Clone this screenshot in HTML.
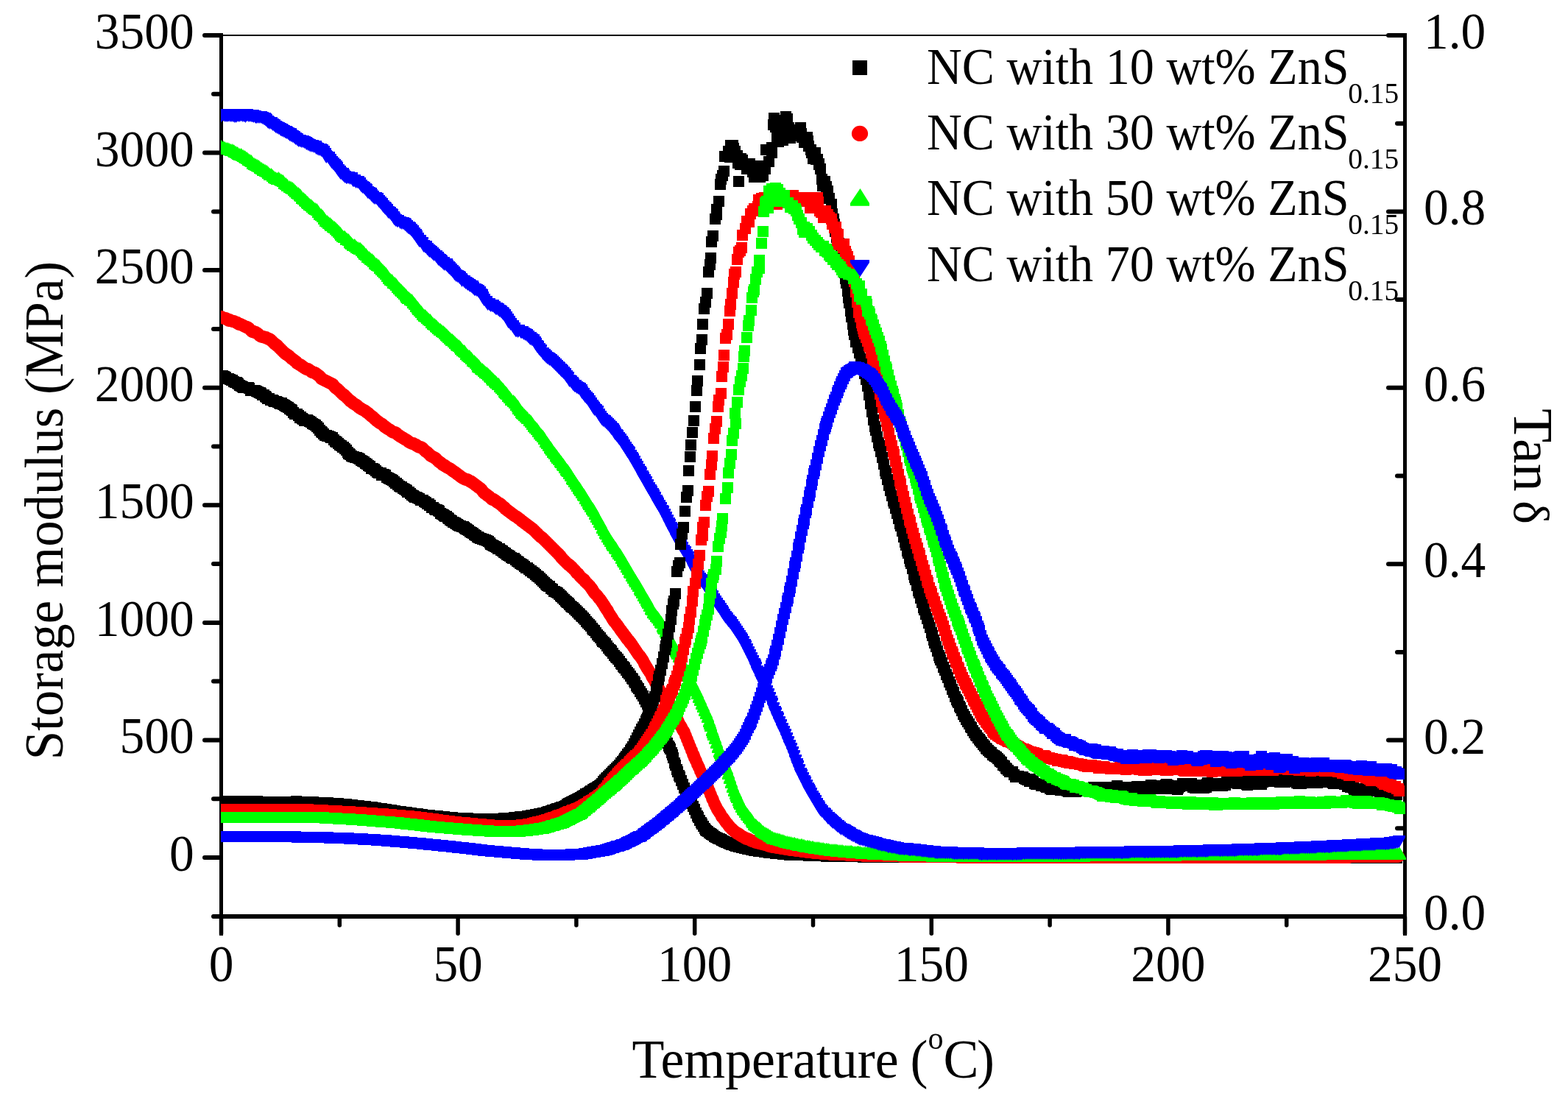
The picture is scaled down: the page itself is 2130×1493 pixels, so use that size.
<!DOCTYPE html>
<html lang="en"><head><meta charset="utf-8"><title>Storage modulus and Tan δ versus temperature</title>
<style>html,body{margin:0;padding:0;background:#fff}body{width:2130px;height:1493px;overflow:hidden}svg{display:block}text{font-family:"Liberation Serif", serif;fill:#000}</style>
</head><body>
<svg width="2130" height="1493" viewBox="0 0 2130 1493" role="img" aria-label="Storage modulus and Tan delta versus temperature for NC with 10, 30, 50 and 70 wt% ZnS 0.15">
<rect width="2130" height="1493" fill="#fff"/>
<defs>
<clipPath id="plotclip"><rect x="300" y="40" width="1615" height="1215"/></clipPath>
<marker id="qk" markerUnits="userSpaceOnUse" markerWidth="15" markerHeight="15" refX="7.5" refY="7.5" viewBox="0 0 15 15" orient="0"><rect width="15" height="15" fill="#000"/></marker>
<marker id="qr" markerUnits="userSpaceOnUse" markerWidth="15" markerHeight="15" refX="7.5" refY="7.5" viewBox="0 0 15 15" orient="0"><rect width="15" height="15" fill="#ff0000"/></marker>
<marker id="qg" markerUnits="userSpaceOnUse" markerWidth="15" markerHeight="15" refX="7.5" refY="7.5" viewBox="0 0 15 15" orient="0"><rect width="15" height="15" fill="#00ff00"/></marker>
<marker id="qb" markerUnits="userSpaceOnUse" markerWidth="15" markerHeight="15" refX="7.5" refY="7.5" viewBox="0 0 15 15" orient="0"><rect width="15" height="15" fill="#0000ff"/></marker>
<marker id="ck" markerUnits="userSpaceOnUse" markerWidth="15" markerHeight="15" refX="7.5" refY="7.5" viewBox="0 0 15 15" orient="0"><rect width="15" height="15" fill="#000"/></marker>
<marker id="cr" markerUnits="userSpaceOnUse" markerWidth="17" markerHeight="17" refX="8.5" refY="8.5" viewBox="0 0 17 17" orient="0"><circle cx="8.5" cy="8.5" r="8.5" fill="#ff0000"/></marker>
<marker id="cg" markerUnits="userSpaceOnUse" markerWidth="17" markerHeight="17" refX="8.5" refY="8.5" viewBox="0 0 17 17" orient="0"><path d="M8.5 0L17 14.6V17H0V14.6z" fill="#00ff00"/></marker>
<marker id="cb" markerUnits="userSpaceOnUse" markerWidth="17" markerHeight="17" refX="8.5" refY="8.5" viewBox="0 0 17 17" orient="0"><path d="M0 0H17V2.4L8.5 17L0 2.4z" fill="#0000ff"/></marker>
</defs>
<g fill="#000" shape-rendering="crispEdges">
<rect x="303" y="47" width="1603" height="2"/>
<rect x="298" y="45" width="5" height="1226"/>
<rect x="1906" y="45" width="5" height="1226"/>
<rect x="289" y="1242" width="1622" height="6"/>
</g>
<g stroke="#000" stroke-linecap="round" fill="none">
<line x1="278" y1="1165.0" x2="299" y2="1165.0" stroke-width="6"/>
<line x1="290" y1="1085.2" x2="299" y2="1085.2" stroke-width="6"/>
<line x1="278" y1="1005.4" x2="299" y2="1005.4" stroke-width="6"/>
<line x1="290" y1="925.6" x2="299" y2="925.6" stroke-width="6"/>
<line x1="278" y1="845.9" x2="299" y2="845.9" stroke-width="6"/>
<line x1="290" y1="766.1" x2="299" y2="766.1" stroke-width="6"/>
<line x1="278" y1="686.3" x2="299" y2="686.3" stroke-width="6"/>
<line x1="290" y1="606.5" x2="299" y2="606.5" stroke-width="6"/>
<line x1="278" y1="526.7" x2="299" y2="526.7" stroke-width="6"/>
<line x1="290" y1="446.9" x2="299" y2="446.9" stroke-width="6"/>
<line x1="278" y1="367.1" x2="299" y2="367.1" stroke-width="6"/>
<line x1="290" y1="287.4" x2="299" y2="287.4" stroke-width="6"/>
<line x1="278" y1="207.6" x2="299" y2="207.6" stroke-width="6"/>
<line x1="290" y1="127.8" x2="299" y2="127.8" stroke-width="6"/>
<line x1="278" y1="48.0" x2="299" y2="48.0" stroke-width="6"/>
<line x1="290" y1="1245" x2="299" y2="1245" stroke-width="6"/>
<line x1="1898" y1="1125.3" x2="1908" y2="1125.3" stroke-width="6"/>
<line x1="1886" y1="1005.6" x2="1908" y2="1005.6" stroke-width="6"/>
<line x1="1898" y1="885.9" x2="1908" y2="885.9" stroke-width="6"/>
<line x1="1886" y1="766.2" x2="1908" y2="766.2" stroke-width="6"/>
<line x1="1898" y1="646.5" x2="1908" y2="646.5" stroke-width="6"/>
<line x1="1886" y1="526.8" x2="1908" y2="526.8" stroke-width="6"/>
<line x1="1898" y1="407.1" x2="1908" y2="407.1" stroke-width="6"/>
<line x1="1886" y1="287.4" x2="1908" y2="287.4" stroke-width="6"/>
<line x1="1898" y1="167.7" x2="1908" y2="167.7" stroke-width="6"/>
<line x1="1886" y1="48.0" x2="1908" y2="48.0" stroke-width="6"/>
<line x1="300.5" y1="1246" x2="300.5" y2="1268.3" stroke-width="5.5"/>
<line x1="461.3" y1="1246" x2="461.3" y2="1257" stroke-width="5.5"/>
<line x1="622.1" y1="1246" x2="622.1" y2="1268.3" stroke-width="5.5"/>
<line x1="782.9" y1="1246" x2="782.9" y2="1257" stroke-width="5.5"/>
<line x1="943.7" y1="1246" x2="943.7" y2="1268.3" stroke-width="5.5"/>
<line x1="1104.5" y1="1246" x2="1104.5" y2="1257" stroke-width="5.5"/>
<line x1="1265.3" y1="1246" x2="1265.3" y2="1268.3" stroke-width="5.5"/>
<line x1="1426.1" y1="1246" x2="1426.1" y2="1257" stroke-width="5.5"/>
<line x1="1586.9" y1="1246" x2="1586.9" y2="1268.3" stroke-width="5.5"/>
<line x1="1747.7" y1="1246" x2="1747.7" y2="1257" stroke-width="5.5"/>
<line x1="1908.5" y1="1246" x2="1908.5" y2="1268.3" stroke-width="5.5"/>
</g>
<text transform="translate(263.60 1183.00) scale(0.9690 1)" font-size="69.60" text-anchor="end">0</text>
<text transform="translate(263.60 1023.43) scale(0.9690 1)" font-size="69.60" text-anchor="end">500</text>
<text transform="translate(263.60 863.86) scale(0.9690 1)" font-size="69.60" text-anchor="end">1000</text>
<text transform="translate(263.60 704.29) scale(0.9690 1)" font-size="69.60" text-anchor="end">1500</text>
<text transform="translate(263.60 544.71) scale(0.9690 1)" font-size="69.60" text-anchor="end">2000</text>
<text transform="translate(263.60 385.14) scale(0.9690 1)" font-size="69.60" text-anchor="end">2500</text>
<text transform="translate(263.60 225.57) scale(0.9690 1)" font-size="69.60" text-anchor="end">3000</text>
<text transform="translate(263.60 66.00) scale(0.9690 1)" font-size="69.60" text-anchor="end">3500</text>
<text transform="translate(300.50 1333.00) scale(0.9690 1)" font-size="69.60" text-anchor="middle">0</text>
<text transform="translate(622.10 1333.00) scale(0.9690 1)" font-size="69.60" text-anchor="middle">50</text>
<text transform="translate(943.70 1333.00) scale(0.9690 1)" font-size="69.60" text-anchor="middle">100</text>
<text transform="translate(1265.30 1333.00) scale(0.9690 1)" font-size="69.60" text-anchor="middle">150</text>
<text transform="translate(1586.90 1333.00) scale(0.9690 1)" font-size="69.60" text-anchor="middle">200</text>
<text transform="translate(1908.50 1333.00) scale(0.9690 1)" font-size="69.60" text-anchor="middle">250</text>
<text transform="translate(1934.00 1263.00) scale(0.9690 1)" font-size="69.60">0.0</text>
<text transform="translate(1934.00 1023.60) scale(0.9690 1)" font-size="69.60">0.2</text>
<text transform="translate(1934.00 784.20) scale(0.9690 1)" font-size="69.60">0.4</text>
<text transform="translate(1934.00 544.80) scale(0.9690 1)" font-size="69.60">0.6</text>
<text transform="translate(1934.00 305.40) scale(0.9690 1)" font-size="69.60">0.8</text>
<text transform="translate(1934.00 66.00) scale(0.9690 1)" font-size="69.60">1.0</text>
<text transform="translate(85.00 693.60) rotate(-90) scale(0.9480 1)" font-size="74.80" text-anchor="middle">Storage modulus (MPa)</text>
<text transform="translate(858.50 1464.00) scale(0.9650 1)" font-size="74.50">Temperature<tspan dx="-2.07"> (</tspan><tspan font-size="43.70" dy="-39.00" dx="0.00">o</tspan><tspan dy="39.00" dx="0.00">C</tspan><tspan dx="-2.59">)</tspan></text>
<text transform="translate(2057.00 555.00) rotate(90) scale(1.0000 1)" font-size="75.90">Tan <tspan font-size="67.00" dx="-6.50">δ</tspan></text>
<g clip-path="url(#plotclip)">
<polyline fill="none" stroke="none" marker-start="url(#ck)" marker-mid="url(#ck)" marker-end="url(#ck)" points="300.5,510.5 302.5,510.5 304.5,511.5 306.5,512.5 308.5,514.5 310.5,514.5 312.5,515.5 314.5,516.5 315.5,516.5 317.5,518.5 319.5,519.5 321.5,519.5 322.5,520.5 323.5,521.5 325.5,523.5 327.5,524.5 329.5,525.5 330.5,526.5 331.5,526.5 332.5,526.5 333.5,526.5 335.5,526.5 337.5,526.5 338.5,527.5 340.5,530.5 342.5,530.5 344.5,530.5 346.5,530.5 348.5,531.5 350.5,532.5 352.5,533.5 353.5,533.5 354.5,534.5 356.5,536.5 358.5,536.5 360.5,538.5 361.5,539.5 363.5,541.5 365.5,541.5 367.5,543.5 369.5,543.5 370.5,543.5 371.5,544.5 372.5,545.5 374.5,545.5 375.5,545.5 377.5,546.5 379.5,547.5 380.5,548.5 381.5,547.5 382.5,547.5 384.5,549.5 386.5,550.5 387.5,551.5 389.5,552.5 391.5,553.5 393.5,555.5 395.5,556.5 396.5,557.5 398.5,560.5 400.5,562.5 402.5,562.5 403.5,562.5 405.5,564.5 407.5,567.5 408.5,566.5 410.5,568.5 411.5,569.5 413.5,571.5 415.5,570.5 416.5,570.5 417.5,570.5 418.5,571.5 420.5,572.5 422.5,573.5 424.5,575.5 426.5,576.5 428.5,577.5 430.5,579.5 432.5,581.5 434.5,584.5 436.5,586.5 437.5,587.5 439.5,589.5 441.5,591.5 443.5,591.5 444.5,592.5 446.5,592.5 448.5,593.5 449.5,594.5 451.5,594.5 453.5,597.5 455.5,599.5 456.5,600.5 457.5,600.5 459.5,602.5 461.5,604.5 463.5,605.5 465.5,607.5 466.5,607.5 468.5,609.5 470.5,611.5 472.5,614.5 473.5,616.5 474.5,616.5 475.5,617.5 477.5,619.5 479.5,620.5 480.5,620.5 482.5,621.5 484.5,621.5 486.5,622.5 488.5,623.5 490.5,625.5 492.5,626.5 494.5,627.5 496.5,629.5 498.5,630.5 500.5,632.5 502.5,633.5 504.5,636.5 506.5,636.5 508.5,637.5 510.5,639.5 512.5,641.5 514.5,642.5 515.5,642.5 517.5,642.5 518.5,645.5 519.5,644.5 520.5,645.5 521.5,644.5 523.5,645.5 525.5,648.5 527.5,649.5 529.5,650.5 531.5,651.5 533.5,652.5 535.5,654.5 537.5,656.5 538.5,656.5 540.5,658.5 542.5,660.5 544.5,661.5 545.5,661.5 547.5,663.5 549.5,664.5 551.5,665.5 552.5,666.5 553.5,668.5 555.5,668.5 557.5,670.5 559.5,672.5 561.5,673.5 562.5,674.5 563.5,675.5 565.5,675.5 567.5,676.5 569.5,677.5 571.5,679.5 572.5,679.5 574.5,679.5 576.5,681.5 578.5,682.5 580.5,684.5 582.5,684.5 583.5,686.5 584.5,686.5 586.5,689.5 588.5,689.5 590.5,691.5 591.5,692.5 592.5,692.5 593.5,692.5 595.5,693.5 596.5,694.5 598.5,697.5 600.5,698.5 602.5,699.5 603.5,700.5 604.5,701.5 606.5,701.5 608.5,703.5 609.5,704.5 611.5,706.5 613.5,707.5 615.5,709.5 616.5,709.5 618.5,710.5 619.5,711.5 621.5,712.5 622.5,713.5 624.5,714.5 625.5,714.5 627.5,715.5 629.5,715.5 630.5,716.5 631.5,717.5 632.5,718.5 633.5,718.5 634.5,719.5 636.5,720.5 638.5,722.5 640.5,723.5 642.5,724.5 644.5,726.5 646.5,727.5 648.5,729.5 649.5,729.5 650.5,730.5 652.5,731.5 653.5,731.5 655.5,732.5 656.5,732.5 658.5,733.5 659.5,733.5 661.5,734.5 663.5,735.5 665.5,737.5 666.5,739.5 668.5,740.5 670.5,741.5 672.5,742.5 674.5,743.5 676.5,745.5 678.5,745.5 680.5,747.5 682.5,748.5 684.5,750.5 686.5,751.5 688.5,753.5 690.5,754.5 692.5,755.5 694.5,757.5 696.5,758.5 698.5,758.5 700.5,760.5 702.5,762.5 704.5,763.5 706.5,765.5 708.5,766.5 710.5,767.5 712.5,769.5 714.5,771.5 715.5,771.5 716.5,771.5 718.5,773.5 720.5,775.5 721.5,775.5 723.5,777.5 725.5,778.5 727.5,780.5 729.5,782.5 731.5,783.5 733.5,785.5 735.5,787.5 737.5,789.5 739.5,791.5 741.5,793.5 742.5,794.5 743.5,795.5 745.5,796.5 746.5,796.5 748.5,799.5 750.5,800.5 752.5,803.5 753.5,803.5 755.5,804.5 757.5,805.5 759.5,807.5 761.5,809.5 762.5,810.5 764.5,812.5 766.5,814.5 768.5,816.5 769.5,817.5 770.5,818.5 772.5,819.5 773.5,821.5 775.5,823.5 776.5,824.5 778.5,825.5 780.5,827.5 782.5,829.5 784.5,831.5 786.5,833.5 787.5,834.5 789.5,836.5 790.5,837.5 792.5,839.5 794.5,841.5 796.5,844.5 798.5,846.5 800.5,848.5 802.5,850.5 804.5,853.5 805.5,855.5 807.5,856.5 809.5,859.5 811.5,862.5 813.5,864.5 815.5,866.5 817.5,869.5 818.5,871.5 820.5,872.5 822.5,874.5 824.5,877.5 826.5,880.5 828.5,882.5 829.5,883.5 830.5,884.5 832.5,887.5 834.5,890.5 836.5,892.5 837.5,893.5 839.5,895.5 841.5,898.5 843.5,901.5 844.5,902.5 846.5,905.5 847.5,906.5 848.5,907.5 850.5,910.5 852.5,913.5 854.5,915.5 856.5,918.5 858.5,921.5 859.5,922.5 861.5,925.5 862.5,927.5 864.5,931.5 865.5,933.5 867.5,935.5 869.5,939.5 871.5,942.5 873.5,945.5 875.5,949.5 877.5,953.5 879.5,956.5 880.5,958.5 882.5,961.5 884.5,965.5 886.5,968.5 888.5,972.5 890.5,976.5 892.5,980.5 894.5,984.5 896.5,989.5 898.5,993.5 900.5,997.5 902.5,1001.5 904.5,1005.5 906.5,1009.5 908.5,1013.5 909.5,1015.5 910.5,1017.5 912.5,1022.5 913.5,1025.5 914.5,1029.5 916.5,1036.5 917.5,1039.5 919.5,1045.5 920.5,1048.5 922.5,1053.5 923.5,1055.5 925.5,1060.5 927.5,1065.5 929.5,1070.5 931.5,1075.5 933.5,1079.5 935.5,1083.5 937.5,1087.5 939.5,1091.5 941.5,1095.5 943.5,1099.5 945.5,1104.5 947.5,1108.5 948.5,1110.5 950.5,1114.5 952.5,1117.5 953.5,1119.5 955.5,1122.5 957.5,1125.5 958.5,1127.5 959.5,1128.5 961.5,1129.5 963.5,1131.5 965.5,1132.5 966.5,1133.5 968.5,1134.5 970.5,1136.5 972.5,1137.5 974.5,1138.5 976.5,1139.5 977.5,1139.5 979.5,1140.5 980.5,1141.5 982.5,1142.5 984.5,1143.5 986.5,1144.5 987.5,1144.5 989.5,1145.5 991.5,1146.5 993.5,1147.5 995.5,1147.5 997.5,1148.5 999.5,1149.5 1001.5,1149.5 1003.5,1150.5 1005.5,1150.5 1007.5,1151.5 1009.5,1151.5 1011.5,1152.5 1013.5,1152.5 1015.5,1153.5 1017.5,1153.5 1018.5,1153.5 1020.5,1154.5 1022.5,1154.5 1024.5,1155.5 1025.5,1155.5 1027.5,1155.5 1029.5,1155.5 1030.5,1156.5 1032.5,1156.5 1034.5,1156.5 1036.5,1156.5 1038.5,1157.5 1040.5,1157.5 1041.5,1157.5 1042.5,1157.5 1044.5,1158.5 1046.5,1158.5 1048.5,1158.5 1049.5,1158.5 1051.5,1158.5 1053.5,1159.5 1054.5,1159.5 1056.5,1159.5 1057.5,1159.5 1058.5,1159.5 1059.5,1159.5 1061.5,1159.5 1063.5,1160.5 1065.5,1160.5 1067.5,1160.5 1068.5,1160.5 1070.5,1160.5 1072.5,1161.5 1074.5,1161.5 1076.5,1161.5 1077.5,1161.5 1078.5,1161.5 1080.5,1161.5 1082.5,1161.5 1083.5,1161.5 1084.5,1161.5 1086.5,1161.5 1088.5,1161.5 1090.5,1161.5 1092.5,1161.5 1094.5,1161.5 1096.5,1161.5 1098.5,1162.5 1100.5,1162.5 1101.5,1162.5 1102.5,1162.5 1104.5,1162.5 1106.5,1162.5 1108.5,1162.5 1110.5,1162.5 1112.5,1162.5 1114.5,1162.5 1116.5,1162.5 1118.5,1162.5 1120.5,1162.5 1121.5,1162.5 1122.5,1163.5 1124.5,1163.5 1125.5,1163.5 1127.5,1163.5 1129.5,1163.5 1131.5,1163.5 1133.5,1163.5 1135.5,1163.5 1136.5,1163.5 1138.5,1163.5 1140.5,1163.5 1142.5,1163.5 1144.5,1163.5 1146.5,1163.5 1148.5,1163.5 1150.5,1163.5 1152.5,1163.5 1154.5,1163.5 1156.5,1163.5 1157.5,1163.5 1159.5,1163.5 1161.5,1163.5 1163.5,1163.5 1164.5,1163.5 1165.5,1163.5 1167.5,1163.5 1168.5,1163.5 1170.5,1163.5 1172.5,1164.5 1174.5,1164.5 1176.5,1164.5 1178.5,1164.5 1180.5,1164.5 1182.5,1164.5 1183.5,1164.5 1185.5,1164.5 1187.5,1164.5 1189.5,1164.5 1190.5,1164.5 1192.5,1164.5 1193.5,1164.5 1194.5,1164.5 1195.5,1164.5 1197.5,1164.5 1199.5,1164.5 1201.5,1164.5 1203.5,1164.5 1204.5,1164.5 1206.5,1164.5 1208.5,1164.5 1209.5,1164.5 1210.5,1164.5 1212.5,1164.5 1214.5,1164.5 1216.5,1164.5 1218.5,1164.5 1220.5,1164.5 1221.5,1164.5 1223.5,1164.5 1224.5,1164.5 1225.5,1164.5 1227.5,1164.5 1229.5,1164.5 1231.5,1164.5 1233.5,1164.5 1235.5,1164.5 1237.5,1164.5 1238.5,1164.5 1240.5,1164.5 1242.5,1164.5 1244.5,1164.5 1246.5,1164.5 1248.5,1164.5 1250.5,1164.5 1252.5,1164.5 1254.5,1164.5 1256.5,1164.5 1258.5,1164.5 1260.5,1164.5 1262.5,1164.5 1263.5,1164.5 1264.5,1164.5 1266.5,1164.5 1267.5,1164.5 1269.5,1164.5 1271.5,1164.5 1273.5,1164.5 1274.5,1164.5 1276.5,1164.5 1278.5,1164.5 1279.5,1164.5 1281.5,1164.5 1282.5,1164.5 1284.5,1164.5 1286.5,1164.5 1288.5,1164.5 1290.5,1164.5 1292.5,1164.5 1293.5,1164.5 1294.5,1164.5 1296.5,1164.5 1298.5,1164.5 1300.5,1164.5 1301.5,1164.5 1302.5,1164.5 1304.5,1164.5 1306.5,1164.5 1307.5,1164.5 1309.5,1164.5 1310.5,1164.5 1312.5,1164.5 1314.5,1164.5 1315.5,1164.5 1317.5,1164.5 1319.5,1164.5 1321.5,1164.5 1323.5,1164.5 1325.5,1164.5 1327.5,1164.5 1329.5,1164.5 1331.5,1164.5 1333.5,1164.5 1335.5,1164.5 1337.5,1164.5 1339.5,1164.5 1341.5,1164.5 1342.5,1164.5 1344.5,1164.5 1346.5,1164.5 1348.5,1164.5 1350.5,1164.5 1352.5,1164.5 1354.5,1165.5 1356.5,1165.5 1358.5,1165.5 1360.5,1165.5 1362.5,1165.5 1363.5,1165.5 1364.5,1165.5 1365.5,1165.5 1367.5,1165.5 1369.5,1165.5 1371.5,1165.5 1372.5,1165.5 1373.5,1165.5 1374.5,1165.5 1376.5,1165.5 1378.5,1165.5 1379.5,1165.5 1380.5,1165.5 1382.5,1165.5 1384.5,1165.5 1386.5,1165.5 1388.5,1165.5 1390.5,1165.5 1392.5,1165.5 1394.5,1165.5 1396.5,1165.5 1398.5,1165.5 1400.5,1165.5 1402.5,1165.5 1403.5,1165.5 1404.5,1165.5 1406.5,1165.5 1408.5,1165.5 1410.5,1165.5 1412.5,1165.5 1414.5,1165.5 1416.5,1165.5 1418.5,1165.5 1420.5,1165.5 1422.5,1165.5 1424.5,1165.5 1426.5,1165.5 1428.5,1165.5 1430.5,1165.5 1432.5,1165.5 1433.5,1165.5 1435.5,1165.5 1437.5,1165.5 1438.5,1165.5 1439.5,1165.5 1441.5,1165.5 1443.5,1165.5 1445.5,1165.5 1447.5,1165.5 1448.5,1165.5 1449.5,1165.5 1451.5,1165.5 1453.5,1165.5 1454.5,1165.5 1456.5,1165.5 1458.5,1165.5 1460.5,1165.5 1462.5,1165.5 1464.5,1165.5 1466.5,1165.5 1468.5,1165.5 1470.5,1165.5 1472.5,1165.5 1473.5,1165.5 1475.5,1165.5 1477.5,1165.5 1479.5,1165.5 1481.5,1165.5 1483.5,1165.5 1485.5,1165.5 1487.5,1165.5 1489.5,1165.5 1491.5,1165.5 1493.5,1165.5 1494.5,1165.5 1496.5,1165.5 1498.5,1165.5 1499.5,1165.5 1501.5,1165.5 1503.5,1165.5 1505.5,1165.5 1507.5,1165.5 1509.5,1165.5 1511.5,1165.5 1513.5,1165.5 1515.5,1165.5 1517.5,1165.5 1518.5,1165.5 1520.5,1165.5 1522.5,1165.5 1523.5,1165.5 1525.5,1165.5 1526.5,1165.5 1528.5,1165.5 1530.5,1165.5 1531.5,1165.5 1533.5,1165.5 1534.5,1165.5 1536.5,1165.5 1537.5,1165.5 1539.5,1165.5 1540.5,1165.5 1542.5,1165.5 1543.5,1165.5 1545.5,1165.5 1546.5,1165.5 1547.5,1165.5 1549.5,1165.5 1550.5,1165.5 1552.5,1165.5 1554.5,1165.5 1556.5,1165.5 1558.5,1165.5 1560.5,1165.5 1562.5,1165.5 1564.5,1165.5 1566.5,1165.5 1568.5,1165.5 1570.5,1165.5 1572.5,1165.5 1574.5,1165.5 1576.5,1165.5 1577.5,1165.5 1578.5,1165.5 1580.5,1165.5 1582.5,1165.5 1583.5,1165.5 1585.5,1165.5 1586.5,1165.5 1588.5,1165.5 1589.5,1165.5 1591.5,1165.5 1592.5,1165.5 1593.5,1165.5 1595.5,1165.5 1597.5,1165.5 1599.5,1165.5 1601.5,1165.5 1603.5,1165.5 1605.5,1165.5 1607.5,1165.5 1609.5,1165.5 1611.5,1165.5 1613.5,1165.5 1615.5,1165.5 1617.5,1165.5 1619.5,1165.5 1620.5,1165.5 1622.5,1165.5 1624.5,1165.5 1625.5,1165.5 1627.5,1165.5 1629.5,1165.5 1631.5,1165.5 1632.5,1165.5 1634.5,1165.5 1635.5,1165.5 1637.5,1165.5 1638.5,1165.5 1640.5,1165.5 1641.5,1165.5 1643.5,1165.5 1645.5,1165.5 1647.5,1165.5 1649.5,1165.5 1651.5,1165.5 1653.5,1165.5 1655.5,1165.5 1657.5,1165.5 1659.5,1165.5 1661.5,1165.5 1663.5,1165.5 1665.5,1165.5 1667.5,1165.5 1669.5,1165.5 1671.5,1165.5 1673.5,1165.5 1675.5,1165.5 1677.5,1165.5 1678.5,1165.5 1680.5,1165.5 1682.5,1165.5 1684.5,1165.5 1685.5,1165.5 1687.5,1165.5 1689.5,1165.5 1691.5,1165.5 1693.5,1165.5 1694.5,1165.5 1696.5,1165.5 1697.5,1165.5 1699.5,1165.5 1701.5,1165.5 1703.5,1165.5 1705.5,1165.5 1707.5,1165.5 1709.5,1165.5 1711.5,1165.5 1713.5,1165.5 1715.5,1165.5 1717.5,1165.5 1719.5,1165.5 1721.5,1165.5 1723.5,1165.5 1724.5,1165.5 1726.5,1165.5 1728.5,1165.5 1729.5,1165.5 1731.5,1165.5 1733.5,1165.5 1735.5,1165.5 1736.5,1165.5 1738.5,1165.5 1740.5,1165.5 1741.5,1165.5 1743.5,1165.5 1745.5,1165.5 1746.5,1165.5 1748.5,1165.5 1749.5,1165.5 1751.5,1165.5 1753.5,1165.5 1755.5,1165.5 1756.5,1165.5 1758.5,1165.5 1760.5,1165.5 1761.5,1165.5 1763.5,1165.5 1765.5,1165.5 1767.5,1165.5 1769.5,1165.5 1771.5,1165.5 1773.5,1165.5 1775.5,1165.5 1776.5,1165.5 1778.5,1165.5 1780.5,1165.5 1781.5,1165.5 1783.5,1165.5 1784.5,1165.5 1786.5,1165.5 1787.5,1165.5 1789.5,1165.5 1791.5,1165.5 1792.5,1165.5 1794.5,1165.5 1795.5,1165.5 1797.5,1165.5 1799.5,1165.5 1801.5,1165.5 1803.5,1165.5 1804.5,1165.5 1806.5,1165.5 1807.5,1165.5 1809.5,1165.5 1811.5,1165.5 1813.5,1165.5 1815.5,1165.5 1817.5,1165.5 1819.5,1165.5 1821.5,1165.5 1822.5,1165.5 1824.5,1165.5 1826.5,1165.5 1828.5,1165.5 1830.5,1165.5 1831.5,1165.5 1833.5,1165.5 1835.5,1165.5 1837.5,1165.5 1839.5,1165.5 1841.5,1165.5 1843.5,1165.5 1845.5,1165.5 1846.5,1165.5 1847.5,1165.5 1849.5,1165.5 1850.5,1165.5 1852.5,1165.5 1854.5,1165.5 1856.5,1165.5 1858.5,1165.5 1860.5,1165.5 1861.5,1165.5 1863.5,1165.5 1864.5,1165.5 1865.5,1165.5 1867.5,1165.5 1868.5,1165.5 1870.5,1165.5 1871.5,1165.5 1873.5,1165.5 1875.5,1165.5 1876.5,1165.5 1878.5,1165.5 1880.5,1165.5 1882.5,1165.5 1884.5,1165.5 1886.5,1165.5 1888.5,1165.5 1890.5,1165.5 1892.5,1165.5 1894.5,1165.5 1895.5,1165.5 1897.5,1165.5"/>
<polyline fill="none" stroke="none" marker-start="url(#cr)" marker-mid="url(#cr)" marker-end="url(#cr)" points="300.5,430.5 302.5,431.5 304.5,432.5 306.5,432.5 308.5,433.5 310.5,435.5 311.5,434.5 313.5,435.5 315.5,436.5 317.5,436.5 319.5,437.5 321.5,438.5 322.5,438.5 324.5,440.5 326.5,440.5 328.5,441.5 330.5,442.5 332.5,443.5 334.5,444.5 335.5,444.5 337.5,445.5 338.5,446.5 340.5,448.5 342.5,450.5 343.5,450.5 344.5,450.5 345.5,451.5 347.5,451.5 348.5,452.5 350.5,453.5 352.5,455.5 353.5,456.5 355.5,457.5 357.5,457.5 359.5,458.5 361.5,458.5 362.5,459.5 364.5,460.5 365.5,460.5 367.5,461.5 369.5,463.5 371.5,465.5 373.5,467.5 375.5,468.5 376.5,469.5 377.5,470.5 379.5,472.5 381.5,474.5 383.5,476.5 385.5,478.5 387.5,480.5 389.5,481.5 390.5,482.5 392.5,483.5 394.5,485.5 396.5,487.5 398.5,488.5 400.5,490.5 402.5,491.5 403.5,493.5 405.5,494.5 407.5,495.5 408.5,496.5 409.5,496.5 411.5,498.5 413.5,499.5 414.5,500.5 416.5,501.5 418.5,501.5 419.5,502.5 421.5,503.5 423.5,505.5 424.5,505.5 426.5,506.5 427.5,506.5 429.5,507.5 431.5,509.5 433.5,510.5 435.5,512.5 436.5,514.5 438.5,515.5 440.5,516.5 442.5,517.5 444.5,518.5 446.5,519.5 448.5,520.5 450.5,521.5 452.5,522.5 454.5,525.5 456.5,527.5 458.5,528.5 460.5,530.5 462.5,532.5 464.5,534.5 466.5,536.5 467.5,536.5 469.5,538.5 471.5,540.5 473.5,542.5 475.5,544.5 476.5,545.5 477.5,545.5 479.5,547.5 480.5,548.5 482.5,549.5 484.5,550.5 485.5,551.5 487.5,553.5 489.5,554.5 490.5,555.5 492.5,556.5 494.5,557.5 496.5,558.5 498.5,560.5 500.5,561.5 502.5,563.5 504.5,565.5 506.5,566.5 508.5,568.5 509.5,569.5 511.5,571.5 513.5,572.5 515.5,574.5 517.5,575.5 519.5,576.5 521.5,578.5 522.5,579.5 523.5,580.5 524.5,580.5 526.5,582.5 528.5,583.5 530.5,584.5 532.5,586.5 534.5,587.5 536.5,587.5 538.5,588.5 540.5,590.5 541.5,591.5 543.5,592.5 544.5,593.5 546.5,594.5 548.5,595.5 549.5,596.5 551.5,597.5 553.5,598.5 555.5,600.5 557.5,601.5 559.5,602.5 561.5,602.5 562.5,603.5 564.5,604.5 565.5,604.5 566.5,605.5 567.5,606.5 569.5,607.5 571.5,607.5 573.5,608.5 574.5,609.5 576.5,611.5 578.5,613.5 580.5,614.5 582.5,616.5 584.5,618.5 585.5,619.5 587.5,620.5 589.5,621.5 591.5,622.5 592.5,623.5 594.5,625.5 596.5,627.5 598.5,628.5 599.5,629.5 601.5,631.5 603.5,632.5 604.5,632.5 606.5,634.5 608.5,635.5 610.5,636.5 612.5,637.5 614.5,639.5 616.5,640.5 617.5,641.5 619.5,642.5 621.5,644.5 623.5,645.5 625.5,647.5 627.5,648.5 628.5,649.5 630.5,650.5 632.5,651.5 634.5,651.5 636.5,652.5 637.5,653.5 639.5,654.5 640.5,654.5 642.5,656.5 644.5,657.5 646.5,659.5 648.5,660.5 650.5,662.5 652.5,663.5 654.5,665.5 656.5,668.5 658.5,670.5 660.5,671.5 662.5,673.5 664.5,674.5 666.5,676.5 668.5,678.5 670.5,678.5 671.5,679.5 673.5,680.5 675.5,682.5 677.5,683.5 679.5,684.5 680.5,685.5 681.5,686.5 683.5,688.5 685.5,689.5 686.5,691.5 688.5,692.5 690.5,694.5 692.5,695.5 694.5,697.5 696.5,698.5 698.5,700.5 700.5,701.5 702.5,702.5 704.5,704.5 706.5,705.5 708.5,707.5 709.5,708.5 711.5,709.5 713.5,711.5 715.5,712.5 717.5,714.5 719.5,715.5 721.5,717.5 723.5,718.5 725.5,720.5 727.5,722.5 729.5,724.5 730.5,725.5 732.5,727.5 734.5,729.5 736.5,730.5 738.5,732.5 740.5,734.5 742.5,736.5 744.5,738.5 746.5,740.5 748.5,742.5 750.5,744.5 752.5,746.5 754.5,748.5 756.5,750.5 758.5,752.5 759.5,753.5 761.5,755.5 762.5,757.5 764.5,759.5 766.5,761.5 768.5,763.5 770.5,765.5 772.5,767.5 773.5,767.5 775.5,769.5 776.5,770.5 777.5,771.5 779.5,773.5 781.5,775.5 783.5,778.5 785.5,779.5 787.5,782.5 789.5,784.5 791.5,786.5 793.5,787.5 794.5,789.5 795.5,790.5 797.5,792.5 799.5,794.5 801.5,796.5 803.5,799.5 804.5,800.5 805.5,802.5 807.5,805.5 809.5,807.5 811.5,809.5 813.5,812.5 815.5,814.5 817.5,817.5 819.5,820.5 821.5,823.5 822.5,825.5 824.5,828.5 825.5,829.5 827.5,833.5 829.5,836.5 831.5,839.5 832.5,841.5 834.5,844.5 836.5,846.5 838.5,849.5 839.5,850.5 841.5,853.5 843.5,856.5 844.5,857.5 846.5,860.5 847.5,861.5 849.5,864.5 850.5,865.5 851.5,867.5 852.5,868.5 854.5,870.5 855.5,872.5 856.5,873.5 857.5,874.5 859.5,877.5 861.5,880.5 863.5,883.5 865.5,886.5 867.5,889.5 869.5,891.5 871.5,894.5 873.5,897.5 875.5,901.5 876.5,903.5 878.5,906.5 879.5,908.5 881.5,911.5 883.5,914.5 885.5,918.5 886.5,920.5 888.5,923.5 890.5,927.5 892.5,931.5 893.5,932.5 895.5,936.5 897.5,940.5 898.5,941.5 900.5,945.5 902.5,948.5 904.5,952.5 906.5,955.5 908.5,958.5 910.5,961.5 912.5,965.5 914.5,968.5 916.5,971.5 918.5,975.5 920.5,978.5 921.5,980.5 923.5,984.5 925.5,987.5 927.5,991.5 929.5,994.5 931.5,999.5 933.5,1004.5 935.5,1009.5 937.5,1014.5 939.5,1019.5 941.5,1024.5 942.5,1026.5 943.5,1029.5 945.5,1033.5 947.5,1038.5 949.5,1042.5 951.5,1047.5 953.5,1051.5 955.5,1056.5 957.5,1060.5 959.5,1065.5 961.5,1069.5 963.5,1074.5 965.5,1079.5 967.5,1084.5 968.5,1086.5 970.5,1091.5 972.5,1095.5 974.5,1099.5 976.5,1102.5 978.5,1105.5 980.5,1109.5 982.5,1111.5 984.5,1114.5 986.5,1117.5 988.5,1119.5 990.5,1122.5 991.5,1123.5 993.5,1125.5 994.5,1126.5 995.5,1127.5 997.5,1129.5 999.5,1130.5 1001.5,1132.5 1002.5,1132.5 1004.5,1133.5 1006.5,1135.5 1008.5,1136.5 1010.5,1137.5 1012.5,1138.5 1013.5,1139.5 1015.5,1139.5 1017.5,1140.5 1019.5,1141.5 1021.5,1142.5 1022.5,1142.5 1024.5,1143.5 1026.5,1144.5 1028.5,1144.5 1030.5,1145.5 1032.5,1145.5 1034.5,1146.5 1036.5,1146.5 1038.5,1147.5 1040.5,1147.5 1042.5,1148.5 1044.5,1149.5 1046.5,1149.5 1048.5,1150.5 1050.5,1150.5 1052.5,1150.5 1054.5,1151.5 1056.5,1151.5 1058.5,1151.5 1060.5,1152.5 1062.5,1152.5 1064.5,1152.5 1065.5,1152.5 1066.5,1153.5 1068.5,1153.5 1070.5,1153.5 1072.5,1154.5 1074.5,1154.5 1076.5,1154.5 1078.5,1154.5 1080.5,1155.5 1082.5,1155.5 1084.5,1155.5 1086.5,1155.5 1088.5,1156.5 1089.5,1156.5 1091.5,1156.5 1092.5,1156.5 1094.5,1156.5 1095.5,1157.5 1097.5,1157.5 1099.5,1157.5 1101.5,1157.5 1103.5,1157.5 1104.5,1158.5 1106.5,1158.5 1108.5,1158.5 1110.5,1158.5 1111.5,1158.5 1113.5,1158.5 1115.5,1159.5 1117.5,1159.5 1119.5,1159.5 1121.5,1159.5 1123.5,1159.5 1125.5,1159.5 1127.5,1160.5 1129.5,1160.5 1130.5,1160.5 1132.5,1160.5 1134.5,1160.5 1135.5,1160.5 1137.5,1160.5 1138.5,1160.5 1140.5,1160.5 1142.5,1160.5 1143.5,1160.5 1145.5,1160.5 1147.5,1160.5 1148.5,1160.5 1150.5,1161.5 1152.5,1161.5 1154.5,1161.5 1156.5,1161.5 1157.5,1161.5 1158.5,1161.5 1160.5,1161.5 1162.5,1161.5 1163.5,1161.5 1165.5,1161.5 1167.5,1161.5 1169.5,1161.5 1170.5,1161.5 1172.5,1162.5 1173.5,1162.5 1175.5,1162.5 1177.5,1162.5 1179.5,1162.5 1181.5,1162.5 1183.5,1162.5 1185.5,1162.5 1187.5,1162.5 1188.5,1162.5 1189.5,1162.5 1191.5,1162.5 1193.5,1162.5 1195.5,1162.5 1197.5,1162.5 1198.5,1162.5 1199.5,1162.5 1200.5,1162.5 1201.5,1162.5 1203.5,1162.5 1204.5,1162.5 1206.5,1162.5 1208.5,1162.5 1210.5,1162.5 1212.5,1162.5 1214.5,1162.5 1216.5,1162.5 1218.5,1162.5 1219.5,1162.5 1221.5,1162.5 1223.5,1163.5 1225.5,1163.5 1227.5,1163.5 1229.5,1163.5 1231.5,1163.5 1233.5,1163.5 1234.5,1163.5 1236.5,1163.5 1238.5,1163.5 1240.5,1163.5 1242.5,1163.5 1244.5,1163.5 1245.5,1163.5 1247.5,1163.5 1249.5,1163.5 1251.5,1163.5 1252.5,1163.5 1254.5,1163.5 1256.5,1163.5 1258.5,1163.5 1260.5,1163.5 1262.5,1163.5 1263.5,1163.5 1265.5,1163.5 1266.5,1163.5 1268.5,1163.5 1270.5,1163.5 1272.5,1163.5 1273.5,1163.5 1275.5,1163.5 1277.5,1163.5 1279.5,1163.5 1280.5,1163.5 1281.5,1163.5 1282.5,1163.5 1284.5,1163.5 1286.5,1163.5 1288.5,1163.5 1290.5,1163.5 1291.5,1163.5 1293.5,1163.5 1295.5,1163.5 1297.5,1163.5 1299.5,1163.5 1301.5,1164.5 1302.5,1164.5 1304.5,1164.5 1306.5,1164.5 1308.5,1164.5 1310.5,1164.5 1311.5,1164.5 1312.5,1164.5 1314.5,1164.5 1316.5,1164.5 1318.5,1164.5 1320.5,1164.5 1322.5,1164.5 1324.5,1164.5 1326.5,1164.5 1328.5,1164.5 1330.5,1164.5 1332.5,1164.5 1334.5,1164.5 1336.5,1164.5 1338.5,1164.5 1339.5,1164.5 1341.5,1164.5 1343.5,1164.5 1345.5,1164.5 1347.5,1164.5 1349.5,1164.5 1350.5,1164.5 1352.5,1164.5 1354.5,1164.5 1356.5,1164.5 1357.5,1164.5 1359.5,1164.5 1361.5,1164.5 1363.5,1164.5 1365.5,1164.5 1367.5,1164.5 1369.5,1164.5 1370.5,1164.5 1372.5,1164.5 1374.5,1164.5 1376.5,1164.5 1377.5,1164.5 1379.5,1164.5 1381.5,1164.5 1383.5,1164.5 1385.5,1164.5 1387.5,1164.5 1388.5,1164.5 1390.5,1164.5 1392.5,1164.5 1394.5,1164.5 1396.5,1164.5 1398.5,1164.5 1400.5,1164.5 1402.5,1164.5 1404.5,1164.5 1406.5,1164.5 1407.5,1164.5 1409.5,1164.5 1411.5,1164.5 1413.5,1164.5 1414.5,1164.5 1416.5,1164.5 1417.5,1164.5 1419.5,1164.5 1421.5,1164.5 1423.5,1164.5 1425.5,1164.5 1427.5,1164.5 1428.5,1164.5 1429.5,1164.5 1430.5,1164.5 1431.5,1164.5 1433.5,1164.5 1435.5,1164.5 1437.5,1164.5 1439.5,1164.5 1440.5,1164.5 1442.5,1164.5 1443.5,1164.5 1445.5,1164.5 1447.5,1164.5 1448.5,1164.5 1450.5,1164.5 1452.5,1164.5 1453.5,1164.5 1455.5,1164.5 1456.5,1164.5 1458.5,1164.5 1459.5,1164.5 1460.5,1164.5 1461.5,1164.5 1463.5,1164.5 1465.5,1164.5 1467.5,1164.5 1469.5,1164.5 1471.5,1164.5 1472.5,1164.5 1474.5,1164.5 1476.5,1164.5 1477.5,1164.5 1479.5,1164.5 1481.5,1164.5 1483.5,1164.5 1485.5,1164.5 1487.5,1164.5 1488.5,1164.5 1489.5,1164.5 1491.5,1164.5 1493.5,1164.5 1495.5,1164.5 1497.5,1164.5 1499.5,1164.5 1501.5,1164.5 1503.5,1164.5 1505.5,1164.5 1506.5,1164.5 1507.5,1164.5 1508.5,1164.5 1510.5,1164.5 1511.5,1164.5 1513.5,1164.5 1515.5,1164.5 1517.5,1164.5 1519.5,1164.5 1521.5,1164.5 1523.5,1164.5 1524.5,1164.5 1525.5,1164.5 1527.5,1164.5 1529.5,1164.5 1531.5,1164.5 1533.5,1164.5 1535.5,1164.5 1537.5,1164.5 1539.5,1164.5 1540.5,1164.5 1541.5,1164.5 1543.5,1164.5 1545.5,1164.5 1547.5,1164.5 1549.5,1164.5 1551.5,1164.5 1553.5,1164.5 1555.5,1164.5 1556.5,1164.5 1558.5,1164.5 1560.5,1164.5 1561.5,1164.5 1563.5,1164.5 1565.5,1164.5 1566.5,1164.5 1568.5,1164.5 1570.5,1164.5 1572.5,1164.5 1574.5,1164.5 1575.5,1164.5 1577.5,1164.5 1579.5,1164.5 1581.5,1164.5 1582.5,1164.5 1583.5,1164.5 1585.5,1164.5 1587.5,1164.5 1589.5,1164.5 1591.5,1164.5 1593.5,1164.5 1594.5,1164.5 1596.5,1164.5 1598.5,1164.5 1600.5,1164.5 1601.5,1164.5 1603.5,1164.5 1605.5,1164.5 1606.5,1164.5 1607.5,1164.5 1609.5,1164.5 1610.5,1164.5 1612.5,1164.5 1613.5,1164.5 1615.5,1164.5 1617.5,1164.5 1619.5,1164.5 1621.5,1164.5 1622.5,1164.5 1623.5,1164.5 1624.5,1164.5 1626.5,1164.5 1628.5,1164.5 1630.5,1164.5 1632.5,1164.5 1634.5,1164.5 1636.5,1164.5 1638.5,1164.5 1640.5,1164.5 1641.5,1164.5 1643.5,1164.5 1645.5,1164.5 1647.5,1164.5 1649.5,1164.5 1650.5,1164.5 1651.5,1164.5 1652.5,1164.5 1654.5,1164.5 1655.5,1164.5 1656.5,1164.5 1658.5,1164.5 1660.5,1164.5 1661.5,1164.5 1663.5,1164.5 1665.5,1164.5 1667.5,1164.5 1669.5,1164.5 1670.5,1164.5 1672.5,1164.5 1673.5,1164.5 1674.5,1164.5 1676.5,1164.5 1677.5,1164.5 1678.5,1164.5 1680.5,1164.5 1682.5,1164.5 1684.5,1164.5 1686.5,1164.5 1688.5,1164.5 1690.5,1164.5 1692.5,1164.5 1694.5,1164.5 1696.5,1164.5 1698.5,1164.5 1700.5,1164.5 1701.5,1164.5 1703.5,1164.5 1705.5,1164.5 1707.5,1164.5 1709.5,1164.5 1711.5,1164.5 1713.5,1164.5 1714.5,1164.5 1716.5,1164.5 1718.5,1164.5 1720.5,1164.5 1721.5,1164.5 1723.5,1164.5 1725.5,1164.5 1727.5,1164.5 1729.5,1164.5 1731.5,1164.5 1733.5,1164.5 1735.5,1164.5 1737.5,1164.5 1739.5,1164.5 1741.5,1164.5 1743.5,1164.5 1745.5,1164.5 1747.5,1164.5 1749.5,1164.5 1750.5,1164.5 1751.5,1164.5 1753.5,1164.5 1755.5,1164.5 1757.5,1164.5 1759.5,1164.5 1761.5,1164.5 1763.5,1164.5 1765.5,1164.5 1767.5,1164.5 1768.5,1164.5 1769.5,1164.5 1770.5,1164.5 1771.5,1164.5 1772.5,1164.5 1774.5,1164.5 1776.5,1164.5 1777.5,1164.5 1778.5,1164.5 1779.5,1164.5 1781.5,1164.5 1783.5,1164.5 1785.5,1164.5 1786.5,1164.5 1788.5,1164.5 1790.5,1164.5 1791.5,1164.5 1793.5,1164.5 1795.5,1164.5 1796.5,1164.5 1798.5,1164.5 1800.5,1164.5 1801.5,1164.5 1803.5,1164.5 1805.5,1164.5 1807.5,1164.5 1809.5,1164.5 1811.5,1164.5 1813.5,1164.5 1815.5,1164.5 1817.5,1164.5 1818.5,1164.5 1820.5,1164.5 1822.5,1164.5 1824.5,1164.5 1826.5,1164.5 1828.5,1164.5 1830.5,1164.5 1831.5,1164.5 1832.5,1164.5 1833.5,1163.5 1835.5,1163.5 1837.5,1163.5 1839.5,1163.5 1841.5,1163.5 1842.5,1163.5 1844.5,1163.5 1846.5,1163.5 1848.5,1163.5 1849.5,1163.5 1851.5,1163.5 1853.5,1163.5 1855.5,1163.5 1857.5,1163.5 1859.5,1163.5 1860.5,1163.5 1862.5,1163.5 1864.5,1163.5 1865.5,1163.5 1867.5,1163.5 1869.5,1163.5 1871.5,1163.5 1873.5,1163.5 1874.5,1163.5 1875.5,1163.5 1877.5,1163.5 1878.5,1163.5 1880.5,1163.5 1882.5,1163.5 1884.5,1163.5 1886.5,1163.5 1887.5,1163.5 1888.5,1163.5 1890.5,1163.5 1892.5,1163.5 1893.5,1163.5 1895.5,1163.5 1896.5,1163.5 1897.5,1163.5 1899.5,1163.5"/>
<polyline fill="none" stroke="none" marker-start="url(#cg)" marker-mid="url(#cg)" marker-end="url(#cg)" points="300.5,198.5 303.5,199.5 305.5,200.5 307.5,201.5 309.5,201.5 311.5,202.5 313.5,203.5 315.5,203.5 317.5,204.5 318.5,205.5 320.5,206.5 322.5,207.5 323.5,208.5 325.5,209.5 327.5,209.5 328.5,210.5 330.5,211.5 332.5,212.5 333.5,213.5 335.5,214.5 337.5,216.5 339.5,217.5 341.5,218.5 343.5,221.5 345.5,222.5 347.5,223.5 349.5,224.5 351.5,225.5 353.5,227.5 355.5,228.5 357.5,230.5 358.5,230.5 360.5,231.5 362.5,232.5 364.5,234.5 366.5,236.5 368.5,236.5 370.5,238.5 372.5,240.5 374.5,241.5 376.5,242.5 378.5,241.5 380.5,243.5 382.5,244.5 384.5,245.5 386.5,248.5 388.5,249.5 390.5,251.5 393.5,253.5 395.5,254.5 397.5,255.5 399.5,257.5 401.5,259.5 403.5,261.5 405.5,262.5 407.5,264.5 408.5,265.5 410.5,268.5 412.5,269.5 414.5,271.5 415.5,272.5 417.5,274.5 418.5,275.5 420.5,277.5 422.5,278.5 424.5,280.5 426.5,282.5 428.5,283.5 430.5,284.5 432.5,287.5 434.5,290.5 436.5,291.5 438.5,293.5 440.5,296.5 442.5,299.5 444.5,300.5 446.5,302.5 448.5,303.5 449.5,305.5 450.5,305.5 452.5,307.5 454.5,308.5 456.5,310.5 458.5,312.5 460.5,314.5 462.5,316.5 463.5,318.5 465.5,320.5 467.5,321.5 468.5,321.5 470.5,324.5 471.5,324.5 473.5,325.5 475.5,328.5 476.5,329.5 477.5,330.5 479.5,332.5 481.5,332.5 482.5,333.5 484.5,335.5 486.5,336.5 488.5,337.5 489.5,337.5 491.5,339.5 493.5,341.5 494.5,342.5 495.5,344.5 497.5,345.5 499.5,348.5 501.5,349.5 503.5,351.5 505.5,352.5 507.5,354.5 509.5,357.5 511.5,358.5 512.5,359.5 514.5,360.5 516.5,363.5 518.5,365.5 520.5,367.5 522.5,369.5 524.5,371.5 526.5,374.5 528.5,377.5 530.5,379.5 532.5,380.5 534.5,383.5 536.5,384.5 538.5,386.5 540.5,389.5 542.5,391.5 544.5,393.5 545.5,394.5 547.5,396.5 549.5,398.5 551.5,400.5 552.5,402.5 553.5,403.5 554.5,404.5 555.5,404.5 557.5,406.5 559.5,407.5 561.5,410.5 563.5,412.5 565.5,415.5 567.5,417.5 568.5,419.5 570.5,421.5 572.5,423.5 574.5,426.5 576.5,428.5 577.5,428.5 578.5,429.5 580.5,431.5 582.5,433.5 584.5,434.5 586.5,437.5 588.5,439.5 590.5,440.5 592.5,442.5 593.5,443.5 595.5,445.5 597.5,447.5 598.5,447.5 600.5,449.5 602.5,450.5 604.5,452.5 606.5,454.5 607.5,455.5 609.5,457.5 611.5,459.5 613.5,461.5 614.5,461.5 616.5,463.5 618.5,465.5 620.5,467.5 621.5,468.5 623.5,469.5 625.5,471.5 626.5,473.5 628.5,475.5 630.5,476.5 631.5,477.5 633.5,480.5 635.5,482.5 637.5,483.5 638.5,484.5 640.5,486.5 642.5,489.5 644.5,490.5 646.5,492.5 648.5,494.5 649.5,497.5 650.5,496.5 651.5,498.5 653.5,500.5 655.5,501.5 657.5,503.5 659.5,505.5 661.5,506.5 663.5,508.5 665.5,510.5 666.5,511.5 668.5,513.5 669.5,515.5 670.5,515.5 672.5,517.5 673.5,518.5 674.5,519.5 676.5,521.5 677.5,521.5 679.5,524.5 681.5,526.5 683.5,528.5 685.5,531.5 686.5,532.5 687.5,533.5 688.5,534.5 690.5,537.5 692.5,539.5 694.5,542.5 697.5,544.5 699.5,546.5 701.5,549.5 703.5,551.5 704.5,554.5 706.5,556.5 708.5,559.5 709.5,560.5 710.5,561.5 712.5,563.5 714.5,565.5 716.5,567.5 719.5,570.5 721.5,572.5 723.5,575.5 725.5,578.5 727.5,580.5 729.5,582.5 731.5,585.5 733.5,588.5 735.5,590.5 737.5,592.5 739.5,595.5 741.5,599.5 743.5,601.5 745.5,604.5 747.5,607.5 748.5,608.5 749.5,610.5 751.5,613.5 753.5,615.5 755.5,618.5 756.5,619.5 757.5,621.5 759.5,623.5 761.5,626.5 762.5,627.5 764.5,630.5 765.5,631.5 767.5,634.5 769.5,637.5 770.5,638.5 771.5,639.5 773.5,642.5 775.5,645.5 777.5,649.5 778.5,650.5 780.5,653.5 782.5,656.5 784.5,659.5 786.5,662.5 787.5,663.5 788.5,665.5 790.5,668.5 792.5,671.5 793.5,672.5 795.5,676.5 797.5,679.5 799.5,682.5 800.5,684.5 802.5,687.5 804.5,690.5 805.5,691.5 806.5,693.5 808.5,697.5 810.5,701.5 812.5,704.5 814.5,708.5 816.5,711.5 818.5,716.5 820.5,719.5 822.5,723.5 823.5,724.5 825.5,728.5 827.5,731.5 829.5,734.5 831.5,737.5 832.5,739.5 833.5,740.5 835.5,743.5 836.5,744.5 838.5,748.5 840.5,751.5 842.5,753.5 844.5,757.5 846.5,760.5 847.5,762.5 849.5,765.5 851.5,769.5 853.5,772.5 855.5,776.5 856.5,777.5 858.5,781.5 860.5,784.5 862.5,787.5 863.5,789.5 865.5,792.5 867.5,795.5 869.5,799.5 870.5,801.5 872.5,804.5 874.5,808.5 876.5,811.5 878.5,814.5 879.5,816.5 880.5,818.5 882.5,822.5 884.5,826.5 885.5,827.5 887.5,831.5 889.5,833.5 891.5,836.5 893.5,838.5 895.5,841.5 897.5,844.5 898.5,845.5 900.5,850.5 901.5,852.5 902.5,853.5 904.5,857.5 905.5,859.5 907.5,862.5 909.5,866.5 911.5,870.5 913.5,873.5 914.5,876.5 916.5,879.5 918.5,883.5 919.5,885.5 920.5,887.5 922.5,891.5 924.5,895.5 926.5,899.5 928.5,903.5 929.5,905.5 931.5,909.5 933.5,913.5 934.5,915.5 935.5,917.5 937.5,921.5 938.5,923.5 940.5,927.5 941.5,929.5 943.5,933.5 945.5,937.5 947.5,941.5 949.5,946.5 951.5,950.5 953.5,955.5 955.5,959.5 957.5,964.5 959.5,968.5 961.5,973.5 963.5,979.5 964.5,982.5 965.5,985.5 967.5,991.5 968.5,994.5 969.5,997.5 971.5,1002.5 973.5,1008.5 975.5,1014.5 977.5,1020.5 978.5,1022.5 979.5,1025.5 981.5,1030.5 983.5,1035.5 984.5,1037.5 985.5,1040.5 987.5,1044.5 989.5,1050.5 991.5,1056.5 993.5,1062.5 995.5,1068.5 997.5,1073.5 999.5,1077.5 1000.5,1080.5 1001.5,1082.5 1003.5,1086.5 1004.5,1089.5 1005.5,1091.5 1007.5,1095.5 1009.5,1098.5 1010.5,1099.5 1012.5,1102.5 1014.5,1105.5 1015.5,1106.5 1017.5,1109.5 1019.5,1111.5 1021.5,1114.5 1022.5,1116.5 1024.5,1119.5 1026.5,1120.5 1027.5,1121.5 1029.5,1123.5 1031.5,1124.5 1033.5,1126.5 1034.5,1128.5 1036.5,1129.5 1037.5,1130.5 1039.5,1131.5 1041.5,1132.5 1043.5,1133.5 1045.5,1135.5 1046.5,1135.5 1048.5,1137.5 1049.5,1137.5 1050.5,1138.5 1052.5,1138.5 1054.5,1139.5 1056.5,1139.5 1058.5,1140.5 1059.5,1140.5 1061.5,1141.5 1063.5,1141.5 1065.5,1142.5 1067.5,1143.5 1069.5,1143.5 1071.5,1144.5 1072.5,1144.5 1074.5,1144.5 1076.5,1145.5 1078.5,1145.5 1079.5,1145.5 1081.5,1146.5 1083.5,1146.5 1084.5,1147.5 1086.5,1147.5 1088.5,1147.5 1089.5,1147.5 1091.5,1148.5 1092.5,1148.5 1094.5,1149.5 1096.5,1149.5 1097.5,1149.5 1099.5,1149.5 1101.5,1150.5 1103.5,1150.5 1104.5,1150.5 1106.5,1151.5 1108.5,1151.5 1110.5,1151.5 1112.5,1151.5 1114.5,1152.5 1116.5,1152.5 1118.5,1152.5 1120.5,1153.5 1122.5,1153.5 1123.5,1153.5 1125.5,1153.5 1127.5,1154.5 1129.5,1154.5 1131.5,1154.5 1133.5,1154.5 1135.5,1154.5 1136.5,1155.5 1137.5,1155.5 1138.5,1155.5 1140.5,1155.5 1142.5,1155.5 1144.5,1155.5 1146.5,1156.5 1148.5,1156.5 1149.5,1156.5 1151.5,1156.5 1153.5,1156.5 1155.5,1156.5 1156.5,1156.5 1157.5,1157.5 1158.5,1157.5 1160.5,1157.5 1162.5,1157.5 1164.5,1157.5 1165.5,1157.5 1166.5,1157.5 1168.5,1157.5 1170.5,1158.5 1172.5,1158.5 1174.5,1158.5 1175.5,1158.5 1177.5,1158.5 1178.5,1158.5 1180.5,1158.5 1182.5,1158.5 1184.5,1158.5 1186.5,1159.5 1188.5,1159.5 1190.5,1159.5 1191.5,1159.5 1193.5,1159.5 1194.5,1159.5 1196.5,1159.5 1198.5,1159.5 1200.5,1159.5 1202.5,1159.5 1204.5,1159.5 1205.5,1159.5 1207.5,1160.5 1208.5,1160.5 1210.5,1160.5 1211.5,1160.5 1212.5,1160.5 1213.5,1160.5 1215.5,1160.5 1217.5,1160.5 1219.5,1160.5 1220.5,1160.5 1221.5,1160.5 1223.5,1160.5 1225.5,1160.5 1227.5,1161.5 1229.5,1161.5 1231.5,1161.5 1233.5,1161.5 1235.5,1161.5 1237.5,1161.5 1239.5,1161.5 1240.5,1161.5 1242.5,1161.5 1244.5,1161.5 1246.5,1161.5 1248.5,1161.5 1250.5,1161.5 1252.5,1161.5 1254.5,1161.5 1256.5,1161.5 1257.5,1161.5 1258.5,1161.5 1260.5,1161.5 1262.5,1161.5 1264.5,1161.5 1266.5,1162.5 1268.5,1162.5 1269.5,1162.5 1271.5,1162.5 1273.5,1162.5 1275.5,1162.5 1276.5,1162.5 1278.5,1162.5 1280.5,1162.5 1282.5,1162.5 1284.5,1162.5 1286.5,1162.5 1287.5,1162.5 1289.5,1162.5 1291.5,1162.5 1292.5,1162.5 1294.5,1162.5 1295.5,1162.5 1297.5,1162.5 1299.5,1162.5 1300.5,1162.5 1301.5,1162.5 1302.5,1162.5 1303.5,1162.5 1305.5,1162.5 1306.5,1162.5 1308.5,1162.5 1310.5,1162.5 1312.5,1162.5 1313.5,1162.5 1315.5,1162.5 1316.5,1162.5 1318.5,1162.5 1320.5,1162.5 1321.5,1162.5 1323.5,1162.5 1325.5,1162.5 1326.5,1162.5 1328.5,1162.5 1330.5,1162.5 1332.5,1162.5 1333.5,1162.5 1335.5,1162.5 1336.5,1162.5 1338.5,1162.5 1340.5,1162.5 1342.5,1162.5 1344.5,1162.5 1346.5,1162.5 1348.5,1162.5 1350.5,1162.5 1352.5,1162.5 1353.5,1162.5 1355.5,1162.5 1357.5,1162.5 1358.5,1162.5 1359.5,1162.5 1361.5,1162.5 1363.5,1162.5 1365.5,1162.5 1367.5,1162.5 1368.5,1162.5 1369.5,1162.5 1371.5,1162.5 1372.5,1162.5 1374.5,1162.5 1376.5,1162.5 1378.5,1162.5 1379.5,1162.5 1381.5,1162.5 1382.5,1162.5 1384.5,1162.5 1386.5,1162.5 1387.5,1162.5 1389.5,1162.5 1391.5,1162.5 1392.5,1162.5 1394.5,1162.5 1396.5,1162.5 1397.5,1162.5 1399.5,1162.5 1401.5,1162.5 1403.5,1162.5 1404.5,1162.5 1406.5,1162.5 1408.5,1162.5 1410.5,1162.5 1412.5,1162.5 1414.5,1162.5 1416.5,1162.5 1418.5,1162.5 1420.5,1162.5 1422.5,1162.5 1423.5,1162.5 1424.5,1162.5 1426.5,1162.5 1428.5,1162.5 1429.5,1162.5 1431.5,1162.5 1433.5,1162.5 1435.5,1162.5 1437.5,1162.5 1439.5,1162.5 1441.5,1162.5 1442.5,1162.5 1443.5,1162.5 1445.5,1162.5 1447.5,1162.5 1448.5,1162.5 1450.5,1162.5 1452.5,1162.5 1453.5,1162.5 1455.5,1162.5 1457.5,1162.5 1459.5,1162.5 1461.5,1162.5 1463.5,1162.5 1465.5,1162.5 1466.5,1162.5 1468.5,1162.5 1470.5,1162.5 1472.5,1162.5 1474.5,1161.5 1475.5,1161.5 1477.5,1161.5 1479.5,1161.5 1480.5,1161.5 1481.5,1161.5 1483.5,1161.5 1484.5,1161.5 1486.5,1161.5 1488.5,1161.5 1490.5,1161.5 1491.5,1161.5 1493.5,1161.5 1495.5,1161.5 1497.5,1161.5 1499.5,1161.5 1501.5,1161.5 1502.5,1161.5 1503.5,1161.5 1505.5,1161.5 1507.5,1161.5 1509.5,1161.5 1511.5,1161.5 1513.5,1161.5 1515.5,1161.5 1516.5,1161.5 1518.5,1161.5 1520.5,1161.5 1522.5,1161.5 1524.5,1161.5 1526.5,1161.5 1528.5,1161.5 1530.5,1161.5 1531.5,1161.5 1533.5,1161.5 1534.5,1161.5 1536.5,1161.5 1537.5,1161.5 1539.5,1161.5 1541.5,1161.5 1543.5,1161.5 1545.5,1161.5 1547.5,1161.5 1549.5,1161.5 1550.5,1161.5 1552.5,1161.5 1554.5,1161.5 1555.5,1161.5 1557.5,1161.5 1558.5,1161.5 1560.5,1161.5 1562.5,1161.5 1564.5,1161.5 1566.5,1161.5 1568.5,1161.5 1569.5,1161.5 1571.5,1161.5 1573.5,1161.5 1575.5,1161.5 1576.5,1161.5 1578.5,1161.5 1580.5,1161.5 1582.5,1161.5 1584.5,1161.5 1586.5,1161.5 1588.5,1161.5 1590.5,1161.5 1592.5,1161.5 1594.5,1161.5 1596.5,1161.5 1598.5,1160.5 1599.5,1160.5 1601.5,1160.5 1602.5,1160.5 1604.5,1160.5 1606.5,1160.5 1608.5,1160.5 1610.5,1160.5 1612.5,1160.5 1613.5,1160.5 1615.5,1160.5 1616.5,1160.5 1618.5,1160.5 1620.5,1160.5 1622.5,1160.5 1624.5,1160.5 1626.5,1160.5 1628.5,1160.5 1629.5,1160.5 1630.5,1160.5 1632.5,1160.5 1634.5,1160.5 1636.5,1160.5 1637.5,1160.5 1638.5,1160.5 1639.5,1160.5 1640.5,1160.5 1642.5,1160.5 1644.5,1160.5 1646.5,1160.5 1648.5,1160.5 1650.5,1160.5 1652.5,1160.5 1654.5,1160.5 1655.5,1160.5 1657.5,1160.5 1658.5,1160.5 1659.5,1160.5 1661.5,1160.5 1663.5,1160.5 1664.5,1160.5 1666.5,1160.5 1668.5,1160.5 1669.5,1160.5 1671.5,1160.5 1673.5,1160.5 1675.5,1160.5 1676.5,1160.5 1678.5,1160.5 1679.5,1160.5 1681.5,1160.5 1682.5,1160.5 1684.5,1160.5 1686.5,1160.5 1688.5,1160.5 1690.5,1160.5 1692.5,1160.5 1694.5,1160.5 1696.5,1160.5 1698.5,1160.5 1700.5,1160.5 1702.5,1160.5 1704.5,1160.5 1706.5,1160.5 1708.5,1160.5 1710.5,1160.5 1711.5,1160.5 1712.5,1160.5 1714.5,1160.5 1716.5,1160.5 1718.5,1160.5 1720.5,1160.5 1722.5,1160.5 1724.5,1160.5 1726.5,1160.5 1728.5,1160.5 1729.5,1160.5 1731.5,1160.5 1733.5,1160.5 1734.5,1160.5 1736.5,1160.5 1738.5,1160.5 1740.5,1160.5 1741.5,1160.5 1743.5,1160.5 1744.5,1160.5 1745.5,1160.5 1747.5,1160.5 1749.5,1160.5 1751.5,1160.5 1752.5,1160.5 1754.5,1160.5 1755.5,1160.5 1757.5,1160.5 1759.5,1160.5 1761.5,1160.5 1763.5,1160.5 1764.5,1160.5 1765.5,1160.5 1766.5,1160.5 1768.5,1160.5 1769.5,1160.5 1771.5,1160.5 1773.5,1160.5 1775.5,1160.5 1776.5,1160.5 1778.5,1160.5 1780.5,1160.5 1781.5,1160.5 1783.5,1160.5 1785.5,1160.5 1787.5,1160.5 1788.5,1160.5 1789.5,1160.5 1791.5,1160.5 1793.5,1160.5 1795.5,1159.5 1797.5,1159.5 1799.5,1159.5 1801.5,1159.5 1802.5,1159.5 1803.5,1159.5 1805.5,1159.5 1806.5,1159.5 1807.5,1159.5 1809.5,1159.5 1811.5,1159.5 1813.5,1159.5 1815.5,1159.5 1817.5,1159.5 1819.5,1159.5 1821.5,1159.5 1823.5,1159.5 1825.5,1159.5 1827.5,1159.5 1829.5,1159.5 1831.5,1159.5 1832.5,1159.5 1834.5,1159.5 1836.5,1159.5 1837.5,1159.5 1839.5,1159.5 1841.5,1159.5 1843.5,1159.5 1845.5,1159.5 1847.5,1159.5 1848.5,1159.5 1849.5,1159.5 1850.5,1159.5 1851.5,1159.5 1853.5,1159.5 1855.5,1159.5 1856.5,1159.5 1858.5,1159.5 1860.5,1159.5 1862.5,1159.5 1864.5,1159.5 1865.5,1159.5 1867.5,1159.5 1869.5,1159.5 1871.5,1159.5 1873.5,1159.5 1875.5,1159.5 1877.5,1159.5 1879.5,1159.5 1881.5,1159.5 1883.5,1159.5 1885.5,1159.5 1887.5,1159.5 1889.5,1159.5 1891.5,1159.5 1892.5,1159.5 1894.5,1159.5 1896.5,1159.5 1898.5,1159.5 1900.5,1159.5 1901.5,1159.5"/>
<polyline fill="none" stroke="none" marker-start="url(#cb)" marker-mid="url(#cb)" marker-end="url(#cb)" points="300.5,157.5 301.5,156.5 303.5,156.5 305.5,157.5 307.5,157.5 309.5,157.5 310.5,156.5 312.5,157.5 314.5,157.5 316.5,157.5 318.5,158.5 320.5,158.5 321.5,157.5 323.5,157.5 325.5,157.5 327.5,156.5 329.5,157.5 331.5,157.5 333.5,158.5 335.5,156.5 337.5,157.5 339.5,157.5 341.5,157.5 342.5,157.5 343.5,157.5 344.5,158.5 346.5,158.5 347.5,159.5 348.5,159.5 350.5,159.5 352.5,159.5 354.5,159.5 356.5,160.5 358.5,161.5 359.5,161.5 360.5,162.5 361.5,163.5 363.5,165.5 364.5,166.5 366.5,167.5 368.5,167.5 370.5,169.5 372.5,170.5 374.5,172.5 376.5,173.5 378.5,174.5 380.5,175.5 381.5,176.5 382.5,176.5 383.5,177.5 385.5,178.5 387.5,179.5 388.5,179.5 389.5,180.5 391.5,181.5 393.5,183.5 394.5,182.5 395.5,184.5 397.5,185.5 399.5,186.5 401.5,188.5 403.5,189.5 405.5,191.5 407.5,191.5 409.5,192.5 411.5,192.5 413.5,193.5 415.5,194.5 416.5,195.5 418.5,196.5 420.5,197.5 422.5,198.5 424.5,198.5 426.5,199.5 428.5,199.5 429.5,201.5 431.5,202.5 433.5,203.5 435.5,203.5 436.5,204.5 437.5,204.5 439.5,206.5 441.5,209.5 442.5,212.5 443.5,213.5 446.5,214.5 448.5,217.5 450.5,220.5 452.5,222.5 454.5,224.5 456.5,226.5 457.5,228.5 459.5,231.5 461.5,233.5 462.5,235.5 464.5,236.5 465.5,236.5 466.5,238.5 468.5,240.5 470.5,241.5 471.5,241.5 473.5,241.5 475.5,242.5 477.5,242.5 479.5,245.5 480.5,245.5 481.5,245.5 483.5,247.5 485.5,247.5 486.5,247.5 488.5,249.5 490.5,252.5 492.5,254.5 494.5,255.5 496.5,257.5 497.5,258.5 499.5,261.5 501.5,262.5 503.5,263.5 504.5,265.5 506.5,267.5 508.5,269.5 510.5,269.5 512.5,270.5 514.5,273.5 516.5,275.5 518.5,277.5 520.5,280.5 522.5,282.5 523.5,283.5 525.5,285.5 527.5,288.5 529.5,289.5 531.5,291.5 532.5,292.5 534.5,295.5 535.5,297.5 537.5,299.5 539.5,300.5 540.5,300.5 543.5,302.5 545.5,303.5 547.5,303.5 549.5,304.5 550.5,305.5 552.5,307.5 554.5,309.5 555.5,309.5 556.5,310.5 558.5,312.5 560.5,314.5 562.5,317.5 564.5,319.5 565.5,321.5 567.5,324.5 569.5,327.5 570.5,327.5 573.5,330.5 575.5,334.5 577.5,335.5 578.5,335.5 580.5,338.5 582.5,340.5 583.5,341.5 585.5,342.5 587.5,344.5 589.5,346.5 592.5,348.5 594.5,350.5 595.5,352.5 597.5,353.5 597.5,353.5 598.5,354.5 599.5,355.5 601.5,357.5 602.5,357.5 603.5,359.5 605.5,359.5 606.5,359.5 607.5,361.5 609.5,363.5 610.5,364.5 612.5,366.5 614.5,368.5 616.5,370.5 617.5,372.5 619.5,374.5 621.5,375.5 623.5,376.5 624.5,377.5 626.5,379.5 627.5,381.5 630.5,382.5 632.5,384.5 634.5,385.5 635.5,386.5 637.5,387.5 638.5,388.5 640.5,389.5 641.5,389.5 642.5,391.5 644.5,393.5 645.5,393.5 647.5,394.5 649.5,395.5 651.5,397.5 653.5,400.5 654.5,401.5 655.5,404.5 657.5,407.5 660.5,410.5 662.5,413.5 664.5,413.5 666.5,415.5 668.5,415.5 669.5,415.5 671.5,417.5 673.5,419.5 674.5,419.5 676.5,420.5 678.5,422.5 680.5,423.5 682.5,425.5 683.5,426.5 685.5,428.5 687.5,431.5 689.5,434.5 690.5,437.5 691.5,437.5 693.5,440.5 696.5,443.5 698.5,446.5 700.5,449.5 701.5,449.5 703.5,450.5 704.5,449.5 707.5,451.5 708.5,451.5 709.5,451.5 711.5,453.5 713.5,454.5 715.5,455.5 717.5,457.5 719.5,459.5 720.5,459.5 720.5,460.5 722.5,461.5 724.5,462.5 726.5,465.5 727.5,467.5 729.5,470.5 730.5,471.5 732.5,474.5 734.5,476.5 737.5,480.5 739.5,482.5 741.5,484.5 743.5,486.5 745.5,487.5 746.5,488.5 748.5,489.5 750.5,491.5 752.5,493.5 754.5,495.5 756.5,497.5 758.5,499.5 759.5,500.5 761.5,502.5 762.5,503.5 763.5,504.5 765.5,506.5 767.5,508.5 769.5,511.5 771.5,513.5 773.5,517.5 775.5,518.5 777.5,520.5 778.5,522.5 780.5,524.5 781.5,524.5 783.5,526.5 785.5,527.5 787.5,528.5 789.5,530.5 790.5,533.5 792.5,535.5 794.5,538.5 796.5,540.5 798.5,542.5 800.5,545.5 802.5,548.5 804.5,551.5 805.5,553.5 806.5,554.5 807.5,556.5 809.5,557.5 811.5,559.5 813.5,563.5 815.5,566.5 817.5,569.5 819.5,571.5 821.5,572.5 823.5,574.5 825.5,576.5 827.5,578.5 829.5,580.5 830.5,582.5 832.5,583.5 833.5,585.5 834.5,587.5 835.5,589.5 837.5,591.5 838.5,592.5 840.5,595.5 842.5,597.5 844.5,600.5 845.5,602.5 847.5,605.5 849.5,608.5 851.5,611.5 852.5,613.5 853.5,614.5 854.5,615.5 856.5,619.5 858.5,622.5 859.5,624.5 861.5,627.5 863.5,631.5 865.5,634.5 867.5,638.5 869.5,641.5 870.5,643.5 872.5,647.5 873.5,649.5 875.5,652.5 877.5,655.5 879.5,659.5 881.5,663.5 883.5,666.5 884.5,668.5 886.5,671.5 887.5,673.5 889.5,676.5 891.5,680.5 892.5,682.5 893.5,684.5 895.5,687.5 897.5,690.5 899.5,694.5 900.5,695.5 902.5,699.5 904.5,703.5 906.5,707.5 908.5,711.5 909.5,713.5 911.5,717.5 912.5,719.5 914.5,723.5 916.5,726.5 918.5,731.5 920.5,734.5 922.5,738.5 924.5,741.5 926.5,744.5 928.5,748.5 930.5,750.5 932.5,754.5 934.5,757.5 936.5,761.5 937.5,763.5 939.5,767.5 941.5,771.5 942.5,773.5 944.5,777.5 946.5,780.5 948.5,783.5 950.5,786.5 952.5,788.5 953.5,790.5 955.5,792.5 957.5,795.5 958.5,797.5 960.5,799.5 962.5,803.5 963.5,804.5 965.5,807.5 967.5,810.5 969.5,814.5 971.5,817.5 973.5,820.5 975.5,823.5 976.5,824.5 978.5,827.5 980.5,830.5 981.5,832.5 983.5,835.5 985.5,838.5 987.5,840.5 989.5,843.5 991.5,845.5 992.5,846.5 994.5,849.5 996.5,852.5 998.5,855.5 1000.5,858.5 1002.5,861.5 1004.5,864.5 1006.5,867.5 1007.5,869.5 1009.5,872.5 1011.5,876.5 1012.5,878.5 1014.5,882.5 1016.5,886.5 1018.5,890.5 1020.5,894.5 1022.5,898.5 1024.5,902.5 1025.5,904.5 1026.5,907.5 1028.5,912.5 1029.5,914.5 1031.5,918.5 1033.5,923.5 1035.5,927.5 1037.5,931.5 1039.5,935.5 1041.5,939.5 1043.5,943.5 1045.5,948.5 1047.5,953.5 1048.5,956.5 1050.5,962.5 1052.5,967.5 1053.5,969.5 1055.5,974.5 1056.5,976.5 1058.5,981.5 1060.5,985.5 1062.5,990.5 1064.5,994.5 1066.5,998.5 1068.5,1003.5 1070.5,1008.5 1072.5,1013.5 1074.5,1017.5 1076.5,1022.5 1078.5,1027.5 1080.5,1033.5 1082.5,1038.5 1083.5,1041.5 1085.5,1046.5 1087.5,1051.5 1088.5,1053.5 1090.5,1057.5 1092.5,1061.5 1093.5,1063.5 1095.5,1067.5 1097.5,1071.5 1098.5,1073.5 1099.5,1075.5 1101.5,1078.5 1103.5,1082.5 1105.5,1085.5 1107.5,1088.5 1109.5,1092.5 1111.5,1095.5 1112.5,1097.5 1114.5,1100.5 1116.5,1102.5 1119.5,1105.5 1120.5,1106.5 1122.5,1108.5 1124.5,1111.5 1125.5,1111.5 1127.5,1113.5 1128.5,1114.5 1129.5,1115.5 1130.5,1116.5 1131.5,1117.5 1133.5,1118.5 1135.5,1120.5 1137.5,1122.5 1138.5,1122.5 1140.5,1124.5 1142.5,1126.5 1145.5,1127.5 1147.5,1128.5 1148.5,1129.5 1150.5,1130.5 1151.5,1131.5 1152.5,1131.5 1153.5,1132.5 1154.5,1132.5 1156.5,1134.5 1158.5,1135.5 1159.5,1135.5 1161.5,1136.5 1162.5,1137.5 1164.5,1138.5 1166.5,1139.5 1167.5,1139.5 1168.5,1140.5 1170.5,1140.5 1172.5,1141.5 1175.5,1142.5 1177.5,1142.5 1179.5,1143.5 1181.5,1143.5 1183.5,1144.5 1185.5,1144.5 1187.5,1145.5 1189.5,1145.5 1191.5,1146.5 1193.5,1147.5 1195.5,1147.5 1197.5,1148.5 1199.5,1148.5 1201.5,1148.5 1203.5,1149.5 1205.5,1149.5 1206.5,1150.5 1207.5,1150.5 1209.5,1150.5 1211.5,1151.5 1213.5,1151.5 1215.5,1151.5 1217.5,1152.5 1219.5,1152.5 1221.5,1153.5 1223.5,1153.5 1225.5,1153.5 1227.5,1153.5 1228.5,1153.5 1229.5,1153.5 1231.5,1153.5 1232.5,1153.5 1234.5,1154.5 1235.5,1154.5 1236.5,1154.5 1237.5,1154.5 1239.5,1154.5 1240.5,1154.5 1242.5,1154.5 1244.5,1155.5 1246.5,1155.5 1248.5,1155.5 1250.5,1155.5 1252.5,1156.5 1254.5,1156.5 1256.5,1156.5 1258.5,1156.5 1259.5,1156.5 1261.5,1157.5 1263.5,1157.5 1265.5,1157.5 1267.5,1157.5 1269.5,1157.5 1270.5,1158.5 1272.5,1158.5 1273.5,1158.5 1275.5,1158.5 1277.5,1158.5 1279.5,1158.5 1281.5,1158.5 1283.5,1158.5 1284.5,1158.5 1286.5,1158.5 1287.5,1158.5 1289.5,1158.5 1290.5,1158.5 1292.5,1158.5 1294.5,1159.5 1296.5,1159.5 1297.5,1159.5 1299.5,1159.5 1300.5,1159.5 1302.5,1159.5 1304.5,1159.5 1306.5,1159.5 1308.5,1159.5 1309.5,1159.5 1311.5,1159.5 1313.5,1159.5 1315.5,1159.5 1316.5,1159.5 1318.5,1159.5 1320.5,1159.5 1322.5,1159.5 1324.5,1159.5 1326.5,1159.5 1328.5,1159.5 1330.5,1160.5 1332.5,1160.5 1333.5,1160.5 1334.5,1160.5 1336.5,1160.5 1338.5,1160.5 1340.5,1160.5 1341.5,1160.5 1343.5,1160.5 1345.5,1160.5 1347.5,1160.5 1349.5,1160.5 1351.5,1160.5 1353.5,1160.5 1354.5,1160.5 1356.5,1160.5 1358.5,1160.5 1360.5,1160.5 1362.5,1160.5 1364.5,1160.5 1366.5,1160.5 1368.5,1160.5 1370.5,1160.5 1372.5,1160.5 1374.5,1160.5 1375.5,1160.5 1376.5,1160.5 1378.5,1160.5 1380.5,1160.5 1381.5,1160.5 1383.5,1160.5 1385.5,1160.5 1387.5,1160.5 1389.5,1159.5 1391.5,1159.5 1392.5,1159.5 1394.5,1159.5 1396.5,1159.5 1398.5,1159.5 1400.5,1159.5 1402.5,1159.5 1404.5,1159.5 1406.5,1159.5 1408.5,1159.5 1410.5,1159.5 1412.5,1159.5 1414.5,1159.5 1416.5,1159.5 1418.5,1159.5 1420.5,1159.5 1422.5,1159.5 1424.5,1159.5 1426.5,1159.5 1428.5,1159.5 1430.5,1159.5 1431.5,1159.5 1433.5,1159.5 1435.5,1159.5 1437.5,1159.5 1438.5,1159.5 1440.5,1159.5 1441.5,1159.5 1442.5,1159.5 1444.5,1159.5 1445.5,1159.5 1447.5,1159.5 1448.5,1159.5 1450.5,1159.5 1452.5,1159.5 1454.5,1159.5 1456.5,1159.5 1458.5,1159.5 1459.5,1159.5 1461.5,1159.5 1463.5,1159.5 1465.5,1159.5 1466.5,1159.5 1468.5,1158.5 1470.5,1158.5 1471.5,1158.5 1473.5,1158.5 1474.5,1158.5 1476.5,1158.5 1478.5,1158.5 1480.5,1158.5 1482.5,1158.5 1484.5,1158.5 1486.5,1158.5 1488.5,1158.5 1490.5,1158.5 1492.5,1158.5 1494.5,1158.5 1496.5,1158.5 1498.5,1158.5 1500.5,1158.5 1502.5,1158.5 1504.5,1158.5 1506.5,1158.5 1508.5,1158.5 1510.5,1158.5 1512.5,1158.5 1513.5,1158.5 1514.5,1158.5 1516.5,1158.5 1518.5,1158.5 1520.5,1158.5 1522.5,1158.5 1523.5,1158.5 1524.5,1158.5 1525.5,1158.5 1527.5,1158.5 1529.5,1158.5 1531.5,1158.5 1533.5,1158.5 1535.5,1157.5 1536.5,1157.5 1538.5,1157.5 1540.5,1157.5 1541.5,1157.5 1543.5,1157.5 1545.5,1157.5 1547.5,1157.5 1549.5,1157.5 1551.5,1157.5 1553.5,1157.5 1554.5,1157.5 1555.5,1157.5 1556.5,1157.5 1558.5,1157.5 1559.5,1157.5 1560.5,1157.5 1562.5,1157.5 1564.5,1157.5 1565.5,1157.5 1567.5,1157.5 1568.5,1157.5 1570.5,1157.5 1572.5,1157.5 1574.5,1157.5 1576.5,1157.5 1577.5,1157.5 1579.5,1157.5 1581.5,1157.5 1582.5,1157.5 1584.5,1157.5 1586.5,1157.5 1588.5,1157.5 1589.5,1157.5 1591.5,1157.5 1593.5,1157.5 1595.5,1157.5 1597.5,1157.5 1598.5,1157.5 1600.5,1157.5 1602.5,1156.5 1603.5,1156.5 1605.5,1156.5 1606.5,1156.5 1607.5,1156.5 1609.5,1156.5 1611.5,1156.5 1612.5,1156.5 1614.5,1156.5 1615.5,1156.5 1617.5,1156.5 1618.5,1156.5 1620.5,1156.5 1622.5,1156.5 1624.5,1156.5 1625.5,1156.5 1626.5,1156.5 1627.5,1156.5 1629.5,1156.5 1631.5,1156.5 1633.5,1156.5 1635.5,1156.5 1637.5,1156.5 1638.5,1156.5 1640.5,1156.5 1642.5,1155.5 1644.5,1155.5 1646.5,1155.5 1648.5,1155.5 1650.5,1155.5 1652.5,1155.5 1654.5,1155.5 1656.5,1155.5 1657.5,1155.5 1658.5,1155.5 1660.5,1155.5 1661.5,1155.5 1663.5,1155.5 1665.5,1155.5 1667.5,1155.5 1668.5,1155.5 1670.5,1155.5 1672.5,1155.5 1674.5,1155.5 1676.5,1155.5 1677.5,1155.5 1679.5,1155.5 1681.5,1154.5 1682.5,1154.5 1684.5,1154.5 1686.5,1154.5 1688.5,1154.5 1689.5,1154.5 1691.5,1154.5 1693.5,1154.5 1695.5,1154.5 1696.5,1154.5 1698.5,1154.5 1700.5,1154.5 1701.5,1154.5 1702.5,1154.5 1704.5,1154.5 1706.5,1154.5 1707.5,1154.5 1708.5,1154.5 1710.5,1154.5 1712.5,1153.5 1714.5,1153.5 1715.5,1153.5 1717.5,1153.5 1719.5,1153.5 1721.5,1153.5 1723.5,1153.5 1725.5,1153.5 1727.5,1153.5 1728.5,1153.5 1730.5,1153.5 1732.5,1153.5 1733.5,1153.5 1734.5,1153.5 1736.5,1153.5 1737.5,1153.5 1738.5,1153.5 1739.5,1153.5 1740.5,1153.5 1741.5,1152.5 1742.5,1152.5 1743.5,1152.5 1745.5,1152.5 1747.5,1152.5 1749.5,1152.5 1751.5,1152.5 1752.5,1152.5 1754.5,1152.5 1756.5,1152.5 1758.5,1152.5 1760.5,1152.5 1762.5,1152.5 1764.5,1152.5 1766.5,1151.5 1768.5,1151.5 1770.5,1151.5 1772.5,1151.5 1773.5,1151.5 1775.5,1151.5 1776.5,1151.5 1778.5,1151.5 1779.5,1151.5 1781.5,1151.5 1783.5,1151.5 1785.5,1151.5 1787.5,1151.5 1789.5,1150.5 1791.5,1150.5 1793.5,1150.5 1795.5,1150.5 1796.5,1150.5 1798.5,1150.5 1799.5,1150.5 1800.5,1150.5 1802.5,1150.5 1804.5,1150.5 1805.5,1150.5 1806.5,1150.5 1808.5,1150.5 1810.5,1149.5 1811.5,1149.5 1813.5,1149.5 1814.5,1149.5 1815.5,1149.5 1817.5,1149.5 1819.5,1149.5 1821.5,1149.5 1823.5,1149.5 1825.5,1149.5 1827.5,1149.5 1829.5,1149.5 1831.5,1148.5 1832.5,1148.5 1834.5,1148.5 1836.5,1148.5 1838.5,1148.5 1840.5,1148.5 1842.5,1148.5 1844.5,1148.5 1846.5,1148.5 1848.5,1148.5 1850.5,1147.5 1851.5,1147.5 1853.5,1147.5 1855.5,1147.5 1857.5,1147.5 1859.5,1147.5 1861.5,1147.5 1863.5,1147.5 1865.5,1147.5 1867.5,1147.5 1869.5,1146.5 1871.5,1146.5 1873.5,1146.5 1875.5,1146.5 1877.5,1146.5 1879.5,1146.5 1881.5,1146.5 1882.5,1146.5 1884.5,1146.5 1886.5,1146.5 1888.5,1145.5 1890.5,1145.5 1891.5,1145.5 1893.5,1145.5 1895.5,1144.5 1896.5,1144.5 1898.5,1144.5 1900.5,1143.5"/>
<polyline fill="none" stroke="none" marker-start="url(#qk)" marker-mid="url(#qk)" marker-end="url(#qk)" points="300.5,1088.5 302.5,1088.5 304.5,1088.5 306.5,1088.5 308.5,1088.5 310.5,1088.5 312.5,1088.5 314.5,1088.5 316.5,1088.5 318.5,1088.5 319.5,1088.5 320.5,1088.5 322.5,1088.5 324.5,1088.5 325.5,1088.5 327.5,1088.5 329.5,1088.5 331.5,1088.5 332.5,1088.5 334.5,1088.5 336.5,1088.5 338.5,1088.5 339.5,1088.5 341.5,1088.5 343.5,1088.5 344.5,1088.5 346.5,1088.5 347.5,1088.5 349.5,1088.5 350.5,1089.5 351.5,1089.5 352.5,1089.5 354.5,1089.5 356.5,1089.5 358.5,1089.5 360.5,1089.5 362.5,1089.5 364.5,1089.5 366.5,1089.5 367.5,1089.5 369.5,1089.5 371.5,1089.5 372.5,1089.5 374.5,1089.5 376.5,1089.5 377.5,1089.5 378.5,1089.5 380.5,1089.5 382.5,1089.5 384.5,1089.5 386.5,1089.5 388.5,1089.5 390.5,1089.5 392.5,1089.5 394.5,1089.5 396.5,1089.5 398.5,1089.5 400.5,1089.5 402.5,1088.5 404.5,1089.5 406.5,1089.5 407.5,1089.5 408.5,1089.5 410.5,1089.5 412.5,1089.5 413.5,1089.5 415.5,1089.5 416.5,1089.5 418.5,1089.5 420.5,1089.5 421.5,1089.5 423.5,1089.5 425.5,1089.5 427.5,1090.5 429.5,1090.5 431.5,1090.5 433.5,1090.5 435.5,1090.5 436.5,1090.5 438.5,1090.5 439.5,1090.5 441.5,1090.5 443.5,1090.5 445.5,1090.5 447.5,1091.5 448.5,1091.5 450.5,1091.5 452.5,1091.5 454.5,1091.5 455.5,1091.5 457.5,1091.5 459.5,1091.5 461.5,1092.5 463.5,1092.5 465.5,1092.5 467.5,1092.5 468.5,1092.5 470.5,1092.5 472.5,1093.5 474.5,1093.5 475.5,1093.5 477.5,1093.5 478.5,1093.5 480.5,1094.5 482.5,1094.5 483.5,1094.5 485.5,1094.5 487.5,1094.5 489.5,1095.5 491.5,1095.5 492.5,1095.5 494.5,1095.5 496.5,1095.5 498.5,1096.5 500.5,1096.5 501.5,1096.5 503.5,1096.5 505.5,1096.5 507.5,1097.5 508.5,1097.5 510.5,1097.5 512.5,1098.5 514.5,1098.5 516.5,1098.5 518.5,1098.5 520.5,1099.5 522.5,1099.5 524.5,1099.5 526.5,1100.5 528.5,1100.5 530.5,1100.5 531.5,1100.5 533.5,1101.5 535.5,1101.5 536.5,1101.5 538.5,1102.5 540.5,1102.5 542.5,1102.5 544.5,1102.5 546.5,1103.5 548.5,1103.5 550.5,1103.5 552.5,1103.5 554.5,1104.5 555.5,1104.5 557.5,1104.5 558.5,1104.5 560.5,1105.5 561.5,1105.5 563.5,1105.5 565.5,1105.5 566.5,1105.5 567.5,1105.5 569.5,1106.5 571.5,1106.5 573.5,1106.5 575.5,1107.5 577.5,1107.5 579.5,1107.5 581.5,1107.5 583.5,1107.5 585.5,1108.5 587.5,1108.5 589.5,1108.5 591.5,1108.5 592.5,1108.5 593.5,1108.5 594.5,1108.5 596.5,1109.5 598.5,1109.5 599.5,1109.5 601.5,1109.5 603.5,1109.5 605.5,1110.5 607.5,1110.5 609.5,1110.5 610.5,1110.5 612.5,1110.5 614.5,1110.5 616.5,1111.5 618.5,1111.5 620.5,1111.5 622.5,1111.5 623.5,1111.5 624.5,1111.5 626.5,1111.5 628.5,1111.5 630.5,1111.5 632.5,1111.5 633.5,1111.5 635.5,1111.5 637.5,1112.5 639.5,1112.5 640.5,1112.5 642.5,1112.5 644.5,1112.5 645.5,1112.5 646.5,1112.5 647.5,1112.5 649.5,1112.5 650.5,1112.5 652.5,1112.5 654.5,1112.5 656.5,1112.5 658.5,1112.5 659.5,1112.5 661.5,1112.5 662.5,1112.5 663.5,1112.5 665.5,1112.5 666.5,1112.5 668.5,1112.5 670.5,1112.5 672.5,1112.5 674.5,1112.5 676.5,1112.5 678.5,1112.5 680.5,1112.5 682.5,1112.5 684.5,1111.5 686.5,1111.5 688.5,1111.5 689.5,1111.5 690.5,1111.5 692.5,1111.5 694.5,1111.5 696.5,1111.5 698.5,1110.5 700.5,1110.5 702.5,1110.5 704.5,1110.5 706.5,1109.5 708.5,1109.5 710.5,1109.5 712.5,1109.5 714.5,1109.5 716.5,1108.5 717.5,1108.5 719.5,1108.5 721.5,1107.5 723.5,1107.5 725.5,1107.5 727.5,1106.5 729.5,1106.5 730.5,1106.5 732.5,1105.5 733.5,1105.5 735.5,1105.5 737.5,1104.5 739.5,1104.5 740.5,1104.5 742.5,1103.5 744.5,1102.5 746.5,1102.5 748.5,1101.5 750.5,1100.5 752.5,1100.5 754.5,1099.5 755.5,1099.5 756.5,1098.5 758.5,1098.5 760.5,1097.5 762.5,1096.5 764.5,1096.5 766.5,1095.5 768.5,1094.5 770.5,1092.5 772.5,1091.5 774.5,1090.5 776.5,1089.5 778.5,1088.5 780.5,1087.5 782.5,1086.5 784.5,1085.5 786.5,1084.5 788.5,1083.5 790.5,1082.5 791.5,1081.5 793.5,1080.5 795.5,1078.5 796.5,1078.5 798.5,1077.5 800.5,1076.5 801.5,1075.5 802.5,1074.5 803.5,1074.5 805.5,1072.5 807.5,1071.5 809.5,1070.5 811.5,1069.5 812.5,1068.5 814.5,1067.5 815.5,1066.5 817.5,1064.5 819.5,1061.5 821.5,1059.5 823.5,1057.5 824.5,1056.5 826.5,1054.5 828.5,1052.5 830.5,1050.5 832.5,1048.5 833.5,1047.5 835.5,1045.5 837.5,1043.5 839.5,1041.5 841.5,1039.5 843.5,1036.5 845.5,1034.5 847.5,1032.5 848.5,1030.5 849.5,1029.5 850.5,1027.5 852.5,1024.5 854.5,1022.5 856.5,1019.5 857.5,1017.5 859.5,1014.5 861.5,1010.5 863.5,1006.5 865.5,1002.5 867.5,998.5 869.5,994.5 871.5,990.5 873.5,987.5 875.5,983.5 877.5,979.5 878.5,977.5 879.5,975.5 880.5,973.5 882.5,969.5 883.5,966.5 885.5,959.5 887.5,952.5 889.5,946.5 891.5,936.5 892.5,932.5 894.5,923.5 895.5,918.5 897.5,910.5 899.5,901.5 901.5,892.5 903.5,882.5 904.5,877.5 905.5,872.5 907.5,861.5 909.5,851.5 911.5,841.5 912.5,829.5 914.5,820.5 915.5,816.5 917.5,806.5 919.5,776.5 921.5,768.5 923.5,764.5 924.5,739.5 926.5,725.5 928.5,716.5 930.5,694.5 932.5,675.5 934.5,666.5 935.5,639.5 937.5,620.5 938.5,604.5 940.5,587.5 942.5,571.5 944.5,552.5 946.5,530.5 947.5,517.5 950.5,495.5 951.5,473.5 953.5,461.5 954.5,440.5 956.5,419.5 958.5,410.5 960.5,398.5 962.5,369.5 964.5,359.5 965.5,350.5 966.5,328.5 968.5,320.5 971.5,297.5 973.5,291.5 973.5,284.5 976.5,273.5 978.5,250.5 979.5,243.5 981.5,238.5 983.5,232.5 984.5,212.5 989.5,205.5 992.5,197.5 995.5,197.5 996.5,201.5 998.5,205.5 1001.5,211.5 1002.5,221.5 1003.5,246.5 1005.5,223.5 1006.5,215.5 1008.5,217.5 1011.5,222.5 1014.5,229.5 1018.5,222.5 1020.5,226.5 1022.5,233.5 1024.5,240.5 1029.5,225.5 1032.5,240.5 1036.5,238.5 1039.5,229.5 1040.5,203.5 1044.5,219.5 1048.5,207.5 1050.5,169.5 1051.5,160.5 1059.5,163.5 1079.5,176.5 991.5,213.5 1048.5,200.5 1053.5,172.5 1059.5,170.5 1061.5,178.5 1064.5,168.5 1055.5,180.5 1055.5,188.5 1057.5,192.5 1063.5,190.5 1067.5,158.5 1069.5,161.5 1071.5,173.5 1073.5,187.5 1077.5,184.5 1087.5,173.5 1088.5,181.5 1089.5,186.5 1092.5,193.5 1096.5,186.5 1097.5,191.5 1098.5,198.5 1101.5,203.5 1102.5,207.5 1104.5,215.5 1107.5,207.5 1108.5,216.5 1110.5,216.5 1112.5,222.5 1112.5,223.5 1114.5,229.5 1116.5,243.5 1117.5,252.5 1120.5,246.5 1122.5,253.5 1124.5,259.5 1126.5,269.5 1129.5,277.5 1130.5,290.5 1132.5,297.5 1133.5,304.5 1134.5,314.5 1136.5,322.5 1139.5,330.5 1142.5,340.5 1143.5,348.5 1144.5,354.5 1146.5,362.5 1147.5,370.5 1148.5,378.5 1149.5,384.5 1151.5,395.5 1152.5,404.5 1153.5,411.5 1155.5,422.5 1156.5,430.5 1158.5,440.5 1159.5,448.5 1160.5,454.5 1162.5,464.5 1165.5,472.5 1167.5,479.5 1169.5,487.5 1170.5,491.5 1172.5,499.5 1174.5,507.5 1176.5,515.5 1178.5,524.5 1180.5,536.5 1182.5,548.5 1184.5,559.5 1186.5,570.5 1188.5,579.5 1189.5,584.5 1191.5,593.5 1193.5,601.5 1194.5,605.5 1196.5,613.5 1198.5,621.5 1200.5,630.5 1202.5,639.5 1203.5,643.5 1205.5,651.5 1207.5,659.5 1209.5,666.5 1211.5,673.5 1213.5,680.5 1214.5,683.5 1216.5,690.5 1218.5,697.5 1220.5,704.5 1222.5,711.5 1223.5,714.5 1225.5,721.5 1227.5,729.5 1229.5,736.5 1230.5,740.5 1232.5,748.5 1233.5,751.5 1235.5,758.5 1236.5,762.5 1237.5,765.5 1239.5,772.5 1241.5,780.5 1242.5,784.5 1243.5,787.5 1245.5,795.5 1247.5,802.5 1248.5,805.5 1250.5,812.5 1252.5,818.5 1254.5,825.5 1255.5,828.5 1257.5,834.5 1259.5,840.5 1261.5,846.5 1263.5,852.5 1265.5,859.5 1266.5,863.5 1268.5,869.5 1269.5,873.5 1271.5,878.5 1273.5,884.5 1275.5,890.5 1276.5,893.5 1277.5,896.5 1279.5,900.5 1281.5,906.5 1283.5,910.5 1285.5,916.5 1287.5,920.5 1289.5,926.5 1291.5,930.5 1293.5,936.5 1295.5,940.5 1297.5,946.5 1299.5,950.5 1300.5,952.5 1301.5,954.5 1303.5,959.5 1304.5,961.5 1306.5,965.5 1308.5,970.5 1310.5,973.5 1312.5,977.5 1314.5,980.5 1316.5,983.5 1318.5,987.5 1319.5,988.5 1321.5,992.5 1323.5,995.5 1325.5,998.5 1326.5,999.5 1328.5,1002.5 1330.5,1004.5 1331.5,1006.5 1333.5,1008.5 1335.5,1011.5 1337.5,1013.5 1339.5,1016.5 1340.5,1017.5 1342.5,1019.5 1344.5,1021.5 1346.5,1022.5 1348.5,1025.5 1350.5,1026.5 1351.5,1027.5 1353.5,1028.5 1355.5,1030.5 1357.5,1032.5 1358.5,1034.5 1360.5,1035.5 1362.5,1039.5 1364.5,1040.5 1366.5,1043.5 1367.5,1044.5 1369.5,1046.5 1371.5,1048.5 1373.5,1048.5 1375.5,1048.5 1377.5,1052.5 1379.5,1055.5 1381.5,1054.5 1383.5,1054.5 1385.5,1055.5 1387.5,1055.5 1389.5,1055.5 1391.5,1057.5 1393.5,1058.5 1395.5,1059.5 1397.5,1059.5 1398.5,1061.5 1399.5,1058.5 1401.5,1060.5 1403.5,1061.5 1405.5,1064.5 1407.5,1065.5 1409.5,1065.5 1411.5,1064.5 1412.5,1065.5 1414.5,1067.5 1416.5,1067.5 1418.5,1067.5 1420.5,1068.5 1421.5,1069.5 1422.5,1066.5 1424.5,1069.5 1426.5,1071.5 1428.5,1072.5 1430.5,1071.5 1432.5,1069.5 1434.5,1068.5 1436.5,1068.5 1438.5,1072.5 1440.5,1073.5 1442.5,1070.5 1444.5,1072.5 1445.5,1072.5 1447.5,1073.5 1448.5,1073.5 1449.5,1074.5 1451.5,1075.5 1453.5,1074.5 1454.5,1075.5 1456.5,1073.5 1457.5,1075.5 1458.5,1075.5 1460.5,1073.5 1461.5,1075.5 1463.5,1074.5 1465.5,1074.5 1467.5,1073.5 1469.5,1071.5 1471.5,1071.5 1473.5,1073.5 1474.5,1074.5 1476.5,1074.5 1478.5,1073.5 1479.5,1071.5 1481.5,1073.5 1483.5,1072.5 1485.5,1069.5 1487.5,1071.5 1489.5,1074.5 1491.5,1071.5 1493.5,1069.5 1495.5,1071.5 1497.5,1073.5 1499.5,1073.5 1501.5,1072.5 1502.5,1070.5 1504.5,1070.5 1506.5,1071.5 1507.5,1069.5 1509.5,1071.5 1510.5,1073.5 1512.5,1071.5 1514.5,1072.5 1516.5,1070.5 1517.5,1067.5 1518.5,1070.5 1519.5,1072.5 1521.5,1072.5 1523.5,1070.5 1525.5,1069.5 1527.5,1070.5 1529.5,1073.5 1531.5,1072.5 1533.5,1073.5 1534.5,1069.5 1536.5,1070.5 1538.5,1071.5 1540.5,1069.5 1542.5,1072.5 1544.5,1068.5 1546.5,1069.5 1548.5,1069.5 1550.5,1068.5 1552.5,1074.5 1553.5,1071.5 1555.5,1073.5 1557.5,1072.5 1559.5,1074.5 1561.5,1070.5 1563.5,1066.5 1565.5,1068.5 1567.5,1069.5 1568.5,1070.5 1570.5,1067.5 1572.5,1071.5 1574.5,1069.5 1576.5,1068.5 1578.5,1071.5 1579.5,1067.5 1581.5,1067.5 1583.5,1066.5 1584.5,1065.5 1586.5,1066.5 1588.5,1068.5 1589.5,1071.5 1590.5,1067.5 1591.5,1069.5 1593.5,1071.5 1595.5,1071.5 1596.5,1067.5 1597.5,1071.5 1599.5,1072.5 1600.5,1070.5 1602.5,1068.5 1604.5,1067.5 1606.5,1064.5 1608.5,1064.5 1610.5,1064.5 1612.5,1066.5 1614.5,1067.5 1616.5,1065.5 1618.5,1064.5 1620.5,1069.5 1621.5,1066.5 1623.5,1070.5 1625.5,1067.5 1627.5,1066.5 1629.5,1067.5 1631.5,1067.5 1633.5,1067.5 1635.5,1070.5 1636.5,1066.5 1638.5,1069.5 1639.5,1065.5 1640.5,1063.5 1642.5,1065.5 1644.5,1067.5 1646.5,1066.5 1648.5,1065.5 1650.5,1065.5 1652.5,1064.5 1654.5,1067.5 1656.5,1066.5 1658.5,1066.5 1660.5,1067.5 1662.5,1066.5 1664.5,1066.5 1666.5,1062.5 1668.5,1062.5 1670.5,1060.5 1672.5,1063.5 1674.5,1060.5 1676.5,1061.5 1678.5,1062.5 1679.5,1063.5 1681.5,1064.5 1683.5,1062.5 1685.5,1064.5 1687.5,1061.5 1689.5,1062.5 1691.5,1064.5 1693.5,1065.5 1694.5,1066.5 1695.5,1063.5 1697.5,1064.5 1698.5,1065.5 1700.5,1064.5 1702.5,1061.5 1703.5,1059.5 1705.5,1058.5 1707.5,1058.5 1709.5,1061.5 1711.5,1063.5 1713.5,1065.5 1715.5,1062.5 1717.5,1061.5 1719.5,1059.5 1720.5,1058.5 1722.5,1059.5 1724.5,1061.5 1726.5,1060.5 1728.5,1058.5 1730.5,1060.5 1732.5,1060.5 1734.5,1059.5 1736.5,1060.5 1738.5,1062.5 1739.5,1062.5 1741.5,1061.5 1743.5,1062.5 1745.5,1062.5 1747.5,1059.5 1749.5,1061.5 1750.5,1060.5 1752.5,1060.5 1754.5,1061.5 1756.5,1060.5 1758.5,1059.5 1759.5,1060.5 1761.5,1063.5 1763.5,1064.5 1765.5,1062.5 1767.5,1064.5 1769.5,1062.5 1770.5,1060.5 1771.5,1061.5 1772.5,1061.5 1774.5,1061.5 1776.5,1063.5 1778.5,1063.5 1780.5,1062.5 1782.5,1060.5 1784.5,1060.5 1786.5,1061.5 1787.5,1062.5 1789.5,1063.5 1791.5,1060.5 1793.5,1061.5 1795.5,1061.5 1797.5,1059.5 1799.5,1062.5 1801.5,1059.5 1803.5,1058.5 1805.5,1060.5 1806.5,1060.5 1808.5,1061.5 1810.5,1063.5 1811.5,1064.5 1812.5,1063.5 1814.5,1063.5 1815.5,1062.5 1816.5,1064.5 1818.5,1064.5 1820.5,1064.5 1822.5,1062.5 1824.5,1062.5 1826.5,1065.5 1827.5,1064.5 1829.5,1065.5 1830.5,1068.5 1832.5,1067.5 1834.5,1069.5 1836.5,1068.5 1838.5,1070.5 1839.5,1072.5 1841.5,1073.5 1842.5,1074.5 1844.5,1074.5 1846.5,1073.5 1848.5,1071.5 1850.5,1075.5 1852.5,1075.5 1854.5,1075.5 1855.5,1076.5 1857.5,1072.5 1859.5,1074.5 1860.5,1074.5 1862.5,1074.5 1864.5,1073.5 1866.5,1073.5 1868.5,1074.5 1870.5,1074.5 1872.5,1073.5 1874.5,1076.5 1876.5,1074.5 1878.5,1074.5 1880.5,1075.5 1882.5,1075.5 1884.5,1076.5 1886.5,1075.5 1888.5,1077.5 1890.5,1078.5 1892.5,1079.5 1893.5,1080.5 1894.5,1081.5 1896.5,1081.5 1897.5,1079.5"/>
<polyline fill="none" stroke="none" marker-start="url(#qr)" marker-mid="url(#qr)" marker-end="url(#qr)" points="300.5,1099.5 302.5,1099.5 304.5,1099.5 305.5,1099.5 307.5,1099.5 309.5,1099.5 310.5,1099.5 312.5,1099.5 313.5,1099.5 315.5,1099.5 317.5,1099.5 318.5,1099.5 320.5,1099.5 322.5,1099.5 324.5,1099.5 325.5,1099.5 326.5,1099.5 328.5,1099.5 330.5,1099.5 332.5,1099.5 334.5,1099.5 336.5,1099.5 337.5,1099.5 338.5,1099.5 340.5,1099.5 342.5,1099.5 344.5,1099.5 346.5,1099.5 348.5,1099.5 350.5,1099.5 352.5,1099.5 354.5,1099.5 356.5,1099.5 358.5,1099.5 360.5,1099.5 361.5,1099.5 363.5,1099.5 364.5,1099.5 366.5,1099.5 368.5,1099.5 370.5,1099.5 372.5,1099.5 374.5,1099.5 376.5,1099.5 378.5,1099.5 380.5,1099.5 382.5,1099.5 383.5,1099.5 385.5,1099.5 387.5,1099.5 389.5,1099.5 390.5,1099.5 391.5,1099.5 393.5,1099.5 395.5,1099.5 396.5,1099.5 398.5,1099.5 400.5,1099.5 401.5,1099.5 403.5,1099.5 405.5,1099.5 407.5,1099.5 408.5,1099.5 409.5,1099.5 411.5,1099.5 413.5,1099.5 415.5,1099.5 416.5,1099.5 418.5,1099.5 420.5,1100.5 422.5,1100.5 424.5,1100.5 426.5,1100.5 428.5,1100.5 430.5,1100.5 431.5,1100.5 432.5,1100.5 434.5,1100.5 436.5,1100.5 437.5,1100.5 438.5,1100.5 440.5,1101.5 442.5,1101.5 443.5,1101.5 445.5,1101.5 447.5,1101.5 448.5,1101.5 449.5,1101.5 451.5,1101.5 453.5,1101.5 455.5,1101.5 457.5,1101.5 459.5,1102.5 460.5,1102.5 462.5,1102.5 463.5,1102.5 465.5,1102.5 466.5,1102.5 467.5,1102.5 469.5,1102.5 471.5,1102.5 472.5,1102.5 474.5,1102.5 475.5,1102.5 477.5,1103.5 479.5,1103.5 481.5,1103.5 483.5,1103.5 484.5,1103.5 485.5,1103.5 487.5,1103.5 489.5,1103.5 490.5,1103.5 492.5,1104.5 494.5,1104.5 496.5,1104.5 497.5,1104.5 499.5,1104.5 500.5,1104.5 502.5,1104.5 503.5,1104.5 505.5,1104.5 507.5,1105.5 509.5,1105.5 511.5,1105.5 512.5,1105.5 514.5,1105.5 515.5,1105.5 517.5,1105.5 519.5,1105.5 520.5,1105.5 522.5,1106.5 524.5,1106.5 526.5,1106.5 528.5,1106.5 529.5,1106.5 531.5,1106.5 533.5,1107.5 535.5,1107.5 537.5,1107.5 539.5,1107.5 540.5,1107.5 542.5,1107.5 543.5,1107.5 545.5,1108.5 547.5,1108.5 549.5,1108.5 550.5,1108.5 551.5,1108.5 553.5,1108.5 555.5,1108.5 557.5,1109.5 558.5,1109.5 560.5,1109.5 561.5,1109.5 563.5,1109.5 564.5,1109.5 566.5,1110.5 568.5,1110.5 570.5,1110.5 572.5,1110.5 574.5,1111.5 576.5,1111.5 578.5,1111.5 580.5,1111.5 582.5,1112.5 583.5,1112.5 585.5,1112.5 586.5,1112.5 588.5,1112.5 590.5,1113.5 592.5,1113.5 594.5,1113.5 596.5,1114.5 598.5,1114.5 600.5,1114.5 602.5,1114.5 604.5,1115.5 606.5,1115.5 608.5,1115.5 610.5,1115.5 612.5,1116.5 614.5,1116.5 616.5,1116.5 618.5,1116.5 619.5,1116.5 621.5,1117.5 623.5,1117.5 625.5,1117.5 626.5,1117.5 627.5,1117.5 629.5,1117.5 631.5,1117.5 633.5,1118.5 634.5,1118.5 636.5,1118.5 638.5,1118.5 640.5,1118.5 641.5,1118.5 643.5,1119.5 644.5,1119.5 645.5,1119.5 646.5,1119.5 647.5,1119.5 648.5,1119.5 649.5,1119.5 651.5,1119.5 653.5,1119.5 655.5,1120.5 657.5,1120.5 659.5,1120.5 661.5,1120.5 663.5,1120.5 664.5,1120.5 666.5,1121.5 668.5,1121.5 670.5,1121.5 671.5,1121.5 673.5,1121.5 675.5,1121.5 676.5,1121.5 677.5,1121.5 679.5,1121.5 681.5,1121.5 682.5,1121.5 684.5,1122.5 685.5,1122.5 686.5,1122.5 688.5,1122.5 690.5,1122.5 692.5,1122.5 694.5,1121.5 696.5,1121.5 698.5,1121.5 700.5,1121.5 702.5,1121.5 704.5,1121.5 706.5,1121.5 708.5,1120.5 710.5,1120.5 712.5,1120.5 714.5,1120.5 716.5,1120.5 717.5,1119.5 719.5,1119.5 721.5,1119.5 723.5,1118.5 724.5,1118.5 726.5,1117.5 728.5,1117.5 730.5,1116.5 732.5,1116.5 734.5,1116.5 735.5,1115.5 737.5,1115.5 739.5,1114.5 741.5,1114.5 742.5,1113.5 744.5,1113.5 746.5,1112.5 748.5,1111.5 750.5,1111.5 751.5,1110.5 753.5,1110.5 755.5,1109.5 757.5,1108.5 759.5,1107.5 761.5,1107.5 763.5,1106.5 764.5,1106.5 766.5,1105.5 768.5,1104.5 770.5,1103.5 772.5,1102.5 774.5,1102.5 776.5,1101.5 777.5,1100.5 778.5,1100.5 779.5,1100.5 781.5,1099.5 783.5,1098.5 784.5,1098.5 786.5,1097.5 788.5,1096.5 790.5,1095.5 792.5,1094.5 793.5,1093.5 795.5,1092.5 797.5,1091.5 799.5,1089.5 801.5,1088.5 803.5,1087.5 805.5,1086.5 807.5,1084.5 809.5,1083.5 811.5,1082.5 813.5,1080.5 815.5,1079.5 817.5,1077.5 819.5,1074.5 821.5,1072.5 823.5,1070.5 825.5,1067.5 827.5,1064.5 828.5,1063.5 830.5,1061.5 832.5,1058.5 834.5,1056.5 836.5,1054.5 838.5,1052.5 839.5,1050.5 841.5,1048.5 843.5,1046.5 845.5,1044.5 847.5,1042.5 849.5,1040.5 851.5,1038.5 852.5,1038.5 854.5,1036.5 855.5,1034.5 857.5,1032.5 859.5,1030.5 861.5,1028.5 863.5,1026.5 864.5,1026.5 866.5,1024.5 868.5,1022.5 869.5,1020.5 870.5,1019.5 872.5,1016.5 874.5,1013.5 876.5,1010.5 878.5,1007.5 880.5,1004.5 882.5,1001.5 884.5,998.5 885.5,997.5 887.5,993.5 889.5,989.5 890.5,987.5 892.5,983.5 894.5,979.5 896.5,975.5 897.5,973.5 899.5,969.5 901.5,964.5 903.5,960.5 905.5,956.5 907.5,951.5 909.5,947.5 911.5,941.5 912.5,938.5 913.5,936.5 915.5,930.5 916.5,927.5 917.5,924.5 919.5,918.5 921.5,911.5 923.5,904.5 924.5,900.5 926.5,892.5 928.5,882.5 930.5,872.5 931.5,868.5 933.5,860.5 935.5,852.5 936.5,841.5 938.5,831.5 940.5,816.5 941.5,803.5 944.5,792.5 946.5,778.5 948.5,766.5 950.5,754.5 952.5,733.5 954.5,727.5 954.5,716.5 956.5,709.5 958.5,686.5 960.5,674.5 962.5,667.5 964.5,644.5 966.5,631.5 967.5,619.5 969.5,595.5 971.5,582.5 973.5,572.5 975.5,552.5 976.5,543.5 979.5,534.5 980.5,511.5 982.5,498.5 983.5,482.5 985.5,459.5 987.5,454.5 989.5,440.5 991.5,422.5 992.5,413.5 994.5,398.5 996.5,383.5 997.5,372.5 999.5,369.5 1001.5,352.5 1003.5,342.5 1005.5,340.5 1007.5,336.5 1008.5,319.5 1012.5,310.5 1014.5,300.5 1017.5,301.5 1019.5,290.5 1022.5,286.5 1024.5,283.5 1029.5,280.5 1030.5,271.5 1034.5,269.5 1038.5,268.5 1042.5,270.5 1046.5,272.5 1050.5,274.5 1055.5,277.5 1060.5,274.5 1064.5,270.5 1070.5,266.5 1077.5,265.5 1084.5,268.5 1088.5,268.5 1091.5,272.5 1087.5,273.5 1093.5,269.5 1100.5,268.5 1100.5,282.5 1105.5,268.5 1110.5,268.5 1111.5,274.5 1113.5,286.5 1115.5,288.5 1118.5,295.5 1121.5,286.5 1124.5,291.5 1126.5,295.5 1129.5,297.5 1130.5,304.5 1133.5,309.5 1135.5,308.5 1136.5,317.5 1137.5,328.5 1138.5,318.5 1139.5,332.5 1141.5,332.5 1144.5,334.5 1145.5,336.5 1146.5,331.5 1148.5,341.5 1149.5,345.5 1151.5,348.5 1153.5,354.5 1155.5,362.5 1157.5,370.5 1160.5,382.5 1162.5,396.5 1164.5,410.5 1166.5,424.5 1168.5,430.5 1170.5,438.5 1171.5,442.5 1172.5,446.5 1173.5,450.5 1174.5,453.5 1176.5,458.5 1178.5,463.5 1180.5,469.5 1181.5,471.5 1183.5,479.5 1185.5,487.5 1186.5,491.5 1188.5,500.5 1189.5,505.5 1191.5,515.5 1193.5,525.5 1195.5,535.5 1197.5,545.5 1199.5,553.5 1201.5,561.5 1202.5,565.5 1204.5,572.5 1205.5,578.5 1207.5,588.5 1209.5,598.5 1211.5,605.5 1213.5,613.5 1214.5,617.5 1216.5,626.5 1218.5,635.5 1220.5,644.5 1222.5,653.5 1223.5,657.5 1225.5,666.5 1227.5,674.5 1229.5,682.5 1231.5,690.5 1233.5,698.5 1235.5,706.5 1236.5,709.5 1238.5,717.5 1240.5,724.5 1242.5,731.5 1244.5,738.5 1246.5,744.5 1248.5,751.5 1249.5,754.5 1251.5,761.5 1253.5,768.5 1255.5,774.5 1257.5,781.5 1259.5,788.5 1260.5,791.5 1262.5,798.5 1264.5,803.5 1265.5,806.5 1267.5,812.5 1269.5,817.5 1271.5,823.5 1273.5,828.5 1275.5,834.5 1277.5,839.5 1279.5,844.5 1281.5,850.5 1283.5,856.5 1285.5,863.5 1287.5,869.5 1289.5,874.5 1291.5,880.5 1293.5,885.5 1294.5,888.5 1296.5,893.5 1298.5,898.5 1299.5,900.5 1301.5,906.5 1302.5,908.5 1304.5,913.5 1305.5,916.5 1307.5,920.5 1309.5,924.5 1311.5,928.5 1312.5,930.5 1314.5,934.5 1316.5,938.5 1318.5,942.5 1320.5,946.5 1322.5,950.5 1323.5,952.5 1325.5,956.5 1327.5,960.5 1329.5,964.5 1331.5,968.5 1333.5,971.5 1334.5,973.5 1336.5,975.5 1337.5,977.5 1339.5,980.5 1340.5,981.5 1341.5,982.5 1342.5,984.5 1344.5,987.5 1346.5,989.5 1348.5,992.5 1349.5,994.5 1350.5,995.5 1352.5,997.5 1353.5,997.5 1355.5,999.5 1357.5,1000.5 1359.5,1001.5 1360.5,1002.5 1361.5,1003.5 1362.5,1003.5 1364.5,1004.5 1366.5,1005.5 1368.5,1006.5 1369.5,1007.5 1371.5,1007.5 1373.5,1008.5 1375.5,1009.5 1377.5,1011.5 1379.5,1012.5 1381.5,1013.5 1383.5,1014.5 1384.5,1015.5 1386.5,1016.5 1388.5,1017.5 1390.5,1017.5 1392.5,1018.5 1394.5,1019.5 1396.5,1020.5 1398.5,1021.5 1400.5,1021.5 1402.5,1022.5 1404.5,1022.5 1406.5,1023.5 1407.5,1023.5 1409.5,1024.5 1411.5,1026.5 1412.5,1026.5 1414.5,1026.5 1416.5,1026.5 1418.5,1026.5 1420.5,1027.5 1422.5,1029.5 1423.5,1029.5 1425.5,1029.5 1427.5,1030.5 1429.5,1030.5 1431.5,1031.5 1433.5,1031.5 1434.5,1031.5 1436.5,1033.5 1437.5,1032.5 1438.5,1032.5 1440.5,1032.5 1442.5,1032.5 1443.5,1033.5 1444.5,1034.5 1446.5,1034.5 1448.5,1035.5 1450.5,1034.5 1452.5,1036.5 1453.5,1035.5 1455.5,1036.5 1457.5,1036.5 1459.5,1037.5 1461.5,1037.5 1462.5,1037.5 1464.5,1037.5 1466.5,1038.5 1468.5,1038.5 1469.5,1038.5 1471.5,1039.5 1473.5,1040.5 1475.5,1040.5 1476.5,1040.5 1477.5,1041.5 1479.5,1040.5 1480.5,1040.5 1482.5,1039.5 1484.5,1040.5 1486.5,1040.5 1488.5,1040.5 1490.5,1041.5 1492.5,1043.5 1494.5,1042.5 1495.5,1042.5 1497.5,1042.5 1499.5,1041.5 1500.5,1042.5 1502.5,1043.5 1504.5,1043.5 1506.5,1043.5 1508.5,1044.5 1509.5,1044.5 1511.5,1043.5 1513.5,1043.5 1515.5,1043.5 1517.5,1043.5 1519.5,1044.5 1521.5,1042.5 1523.5,1043.5 1525.5,1042.5 1527.5,1042.5 1529.5,1045.5 1531.5,1044.5 1532.5,1044.5 1534.5,1044.5 1536.5,1043.5 1538.5,1044.5 1540.5,1044.5 1542.5,1044.5 1543.5,1043.5 1545.5,1044.5 1547.5,1045.5 1548.5,1044.5 1550.5,1044.5 1551.5,1044.5 1553.5,1046.5 1555.5,1044.5 1557.5,1046.5 1559.5,1044.5 1561.5,1044.5 1563.5,1043.5 1565.5,1044.5 1567.5,1045.5 1569.5,1043.5 1570.5,1043.5 1572.5,1045.5 1574.5,1044.5 1576.5,1044.5 1578.5,1043.5 1580.5,1044.5 1581.5,1044.5 1583.5,1046.5 1585.5,1045.5 1586.5,1046.5 1588.5,1045.5 1590.5,1044.5 1591.5,1045.5 1592.5,1044.5 1594.5,1044.5 1596.5,1043.5 1597.5,1044.5 1599.5,1044.5 1601.5,1045.5 1603.5,1045.5 1605.5,1044.5 1607.5,1046.5 1609.5,1047.5 1610.5,1045.5 1612.5,1045.5 1614.5,1044.5 1616.5,1044.5 1618.5,1045.5 1620.5,1045.5 1622.5,1046.5 1624.5,1047.5 1626.5,1045.5 1627.5,1045.5 1628.5,1046.5 1630.5,1047.5 1632.5,1047.5 1634.5,1046.5 1636.5,1046.5 1637.5,1046.5 1639.5,1045.5 1641.5,1046.5 1643.5,1047.5 1644.5,1047.5 1646.5,1048.5 1648.5,1047.5 1650.5,1047.5 1651.5,1047.5 1653.5,1047.5 1655.5,1046.5 1656.5,1045.5 1658.5,1045.5 1659.5,1045.5 1661.5,1046.5 1662.5,1046.5 1663.5,1045.5 1665.5,1046.5 1667.5,1047.5 1669.5,1046.5 1671.5,1045.5 1672.5,1044.5 1674.5,1045.5 1676.5,1045.5 1677.5,1045.5 1679.5,1045.5 1680.5,1047.5 1681.5,1045.5 1682.5,1046.5 1684.5,1044.5 1686.5,1044.5 1688.5,1045.5 1689.5,1045.5 1691.5,1045.5 1693.5,1046.5 1695.5,1045.5 1697.5,1045.5 1698.5,1046.5 1699.5,1045.5 1700.5,1044.5 1701.5,1045.5 1702.5,1046.5 1704.5,1044.5 1706.5,1046.5 1708.5,1045.5 1709.5,1045.5 1711.5,1045.5 1713.5,1045.5 1714.5,1045.5 1716.5,1043.5 1717.5,1045.5 1719.5,1046.5 1721.5,1046.5 1723.5,1045.5 1725.5,1044.5 1726.5,1044.5 1727.5,1045.5 1729.5,1046.5 1730.5,1044.5 1732.5,1044.5 1734.5,1043.5 1736.5,1043.5 1738.5,1044.5 1740.5,1044.5 1742.5,1044.5 1743.5,1043.5 1745.5,1044.5 1747.5,1043.5 1749.5,1045.5 1750.5,1044.5 1752.5,1043.5 1754.5,1044.5 1756.5,1044.5 1758.5,1045.5 1760.5,1044.5 1762.5,1044.5 1764.5,1046.5 1766.5,1043.5 1768.5,1044.5 1770.5,1045.5 1772.5,1044.5 1773.5,1045.5 1774.5,1044.5 1776.5,1044.5 1778.5,1044.5 1780.5,1047.5 1782.5,1045.5 1783.5,1045.5 1785.5,1045.5 1786.5,1045.5 1788.5,1044.5 1790.5,1045.5 1791.5,1045.5 1792.5,1046.5 1794.5,1045.5 1796.5,1044.5 1798.5,1046.5 1799.5,1047.5 1801.5,1047.5 1803.5,1046.5 1804.5,1047.5 1806.5,1047.5 1808.5,1046.5 1810.5,1045.5 1812.5,1045.5 1814.5,1046.5 1815.5,1047.5 1816.5,1046.5 1817.5,1048.5 1819.5,1048.5 1821.5,1047.5 1823.5,1050.5 1825.5,1050.5 1827.5,1050.5 1829.5,1051.5 1830.5,1051.5 1832.5,1053.5 1833.5,1051.5 1835.5,1053.5 1837.5,1051.5 1839.5,1053.5 1841.5,1052.5 1843.5,1053.5 1844.5,1053.5 1845.5,1053.5 1846.5,1053.5 1848.5,1055.5 1850.5,1054.5 1852.5,1054.5 1853.5,1054.5 1854.5,1054.5 1855.5,1056.5 1857.5,1056.5 1858.5,1057.5 1860.5,1058.5 1862.5,1060.5 1864.5,1058.5 1866.5,1058.5 1868.5,1058.5 1870.5,1059.5 1872.5,1060.5 1874.5,1060.5 1876.5,1061.5 1878.5,1063.5 1880.5,1065.5 1882.5,1065.5 1883.5,1064.5 1885.5,1064.5 1886.5,1066.5 1887.5,1067.5 1889.5,1066.5 1890.5,1068.5 1892.5,1069.5 1893.5,1069.5 1895.5,1068.5 1897.5,1071.5 1899.5,1071.5 1900.5,1074.5"/>
<polyline fill="none" stroke="none" marker-start="url(#qg)" marker-mid="url(#qg)" marker-end="url(#qg)" points="300.5,1110.5 302.5,1110.5 303.5,1110.5 304.5,1110.5 306.5,1110.5 308.5,1110.5 310.5,1110.5 312.5,1110.5 314.5,1110.5 316.5,1110.5 318.5,1110.5 320.5,1110.5 321.5,1110.5 323.5,1110.5 325.5,1110.5 326.5,1110.5 327.5,1110.5 328.5,1110.5 330.5,1110.5 332.5,1110.5 333.5,1110.5 335.5,1110.5 337.5,1110.5 338.5,1110.5 340.5,1110.5 341.5,1110.5 343.5,1110.5 345.5,1110.5 347.5,1110.5 349.5,1110.5 351.5,1110.5 353.5,1110.5 355.5,1110.5 356.5,1110.5 358.5,1110.5 360.5,1110.5 362.5,1110.5 364.5,1110.5 366.5,1110.5 368.5,1110.5 370.5,1110.5 372.5,1110.5 374.5,1110.5 375.5,1110.5 376.5,1110.5 377.5,1110.5 379.5,1110.5 380.5,1110.5 382.5,1110.5 384.5,1110.5 386.5,1110.5 387.5,1110.5 389.5,1110.5 391.5,1110.5 393.5,1110.5 395.5,1110.5 397.5,1110.5 399.5,1110.5 401.5,1110.5 402.5,1110.5 403.5,1110.5 405.5,1110.5 407.5,1110.5 409.5,1110.5 411.5,1110.5 412.5,1110.5 414.5,1110.5 416.5,1110.5 418.5,1110.5 419.5,1110.5 420.5,1110.5 422.5,1110.5 424.5,1110.5 425.5,1110.5 427.5,1110.5 429.5,1110.5 430.5,1110.5 432.5,1110.5 433.5,1110.5 435.5,1110.5 436.5,1110.5 438.5,1110.5 439.5,1110.5 441.5,1111.5 443.5,1111.5 445.5,1111.5 446.5,1111.5 447.5,1111.5 449.5,1111.5 451.5,1111.5 453.5,1111.5 455.5,1111.5 457.5,1111.5 459.5,1112.5 460.5,1112.5 461.5,1112.5 463.5,1112.5 465.5,1112.5 467.5,1112.5 468.5,1112.5 470.5,1112.5 472.5,1112.5 473.5,1112.5 475.5,1112.5 477.5,1113.5 479.5,1113.5 481.5,1113.5 483.5,1113.5 484.5,1113.5 486.5,1113.5 488.5,1113.5 490.5,1113.5 492.5,1114.5 494.5,1114.5 495.5,1114.5 497.5,1114.5 498.5,1114.5 499.5,1114.5 501.5,1114.5 503.5,1114.5 505.5,1115.5 507.5,1115.5 509.5,1115.5 510.5,1115.5 512.5,1115.5 513.5,1115.5 515.5,1115.5 517.5,1116.5 519.5,1116.5 521.5,1116.5 522.5,1116.5 524.5,1116.5 526.5,1116.5 527.5,1116.5 529.5,1116.5 531.5,1117.5 533.5,1117.5 534.5,1117.5 536.5,1117.5 538.5,1117.5 540.5,1117.5 541.5,1117.5 543.5,1118.5 545.5,1118.5 547.5,1118.5 549.5,1118.5 551.5,1119.5 553.5,1119.5 554.5,1119.5 556.5,1119.5 557.5,1119.5 559.5,1119.5 561.5,1120.5 562.5,1120.5 564.5,1120.5 566.5,1120.5 568.5,1120.5 570.5,1121.5 572.5,1121.5 574.5,1121.5 576.5,1121.5 578.5,1122.5 580.5,1122.5 582.5,1122.5 584.5,1122.5 585.5,1122.5 587.5,1123.5 589.5,1123.5 591.5,1123.5 593.5,1123.5 594.5,1123.5 596.5,1123.5 598.5,1124.5 600.5,1124.5 602.5,1124.5 604.5,1124.5 605.5,1124.5 607.5,1124.5 608.5,1124.5 610.5,1125.5 612.5,1125.5 613.5,1125.5 614.5,1125.5 616.5,1125.5 617.5,1125.5 619.5,1125.5 621.5,1125.5 622.5,1126.5 624.5,1126.5 625.5,1126.5 627.5,1126.5 629.5,1126.5 631.5,1126.5 633.5,1126.5 634.5,1127.5 636.5,1127.5 638.5,1127.5 640.5,1127.5 642.5,1127.5 643.5,1127.5 645.5,1127.5 646.5,1127.5 647.5,1127.5 649.5,1128.5 650.5,1128.5 652.5,1128.5 654.5,1128.5 656.5,1128.5 658.5,1128.5 660.5,1128.5 661.5,1128.5 662.5,1128.5 663.5,1128.5 665.5,1129.5 666.5,1129.5 668.5,1129.5 670.5,1129.5 671.5,1129.5 673.5,1129.5 675.5,1129.5 677.5,1129.5 679.5,1129.5 681.5,1129.5 683.5,1129.5 685.5,1129.5 687.5,1129.5 689.5,1129.5 691.5,1129.5 693.5,1129.5 695.5,1129.5 697.5,1129.5 699.5,1129.5 701.5,1129.5 702.5,1129.5 704.5,1129.5 706.5,1129.5 708.5,1128.5 710.5,1128.5 712.5,1128.5 714.5,1128.5 716.5,1128.5 718.5,1127.5 720.5,1127.5 721.5,1127.5 722.5,1127.5 724.5,1127.5 726.5,1126.5 728.5,1126.5 730.5,1126.5 732.5,1125.5 734.5,1125.5 736.5,1125.5 738.5,1125.5 739.5,1124.5 741.5,1124.5 743.5,1123.5 745.5,1123.5 747.5,1122.5 749.5,1121.5 751.5,1121.5 752.5,1121.5 754.5,1120.5 756.5,1119.5 758.5,1119.5 760.5,1118.5 762.5,1118.5 763.5,1117.5 765.5,1117.5 766.5,1116.5 768.5,1115.5 770.5,1114.5 772.5,1113.5 773.5,1113.5 774.5,1112.5 776.5,1111.5 778.5,1110.5 780.5,1109.5 782.5,1108.5 784.5,1107.5 786.5,1106.5 787.5,1106.5 789.5,1105.5 790.5,1104.5 791.5,1103.5 793.5,1101.5 795.5,1100.5 797.5,1098.5 799.5,1096.5 800.5,1096.5 801.5,1095.5 803.5,1093.5 805.5,1091.5 807.5,1090.5 809.5,1088.5 811.5,1086.5 813.5,1085.5 815.5,1083.5 817.5,1081.5 819.5,1079.5 821.5,1077.5 822.5,1077.5 824.5,1075.5 826.5,1073.5 827.5,1073.5 829.5,1071.5 830.5,1070.5 832.5,1068.5 834.5,1067.5 835.5,1066.5 836.5,1065.5 837.5,1064.5 838.5,1063.5 840.5,1061.5 841.5,1060.5 843.5,1059.5 845.5,1057.5 847.5,1055.5 848.5,1054.5 850.5,1052.5 851.5,1051.5 853.5,1049.5 855.5,1047.5 857.5,1045.5 859.5,1044.5 860.5,1043.5 862.5,1041.5 864.5,1039.5 865.5,1038.5 867.5,1036.5 868.5,1036.5 870.5,1034.5 871.5,1033.5 872.5,1032.5 874.5,1030.5 876.5,1028.5 877.5,1027.5 879.5,1024.5 881.5,1022.5 882.5,1021.5 884.5,1019.5 885.5,1018.5 887.5,1016.5 889.5,1013.5 891.5,1011.5 892.5,1009.5 894.5,1007.5 896.5,1004.5 898.5,1002.5 899.5,1000.5 901.5,998.5 903.5,995.5 905.5,992.5 906.5,990.5 908.5,987.5 910.5,983.5 912.5,980.5 914.5,977.5 915.5,975.5 917.5,972.5 918.5,970.5 920.5,966.5 921.5,963.5 923.5,959.5 925.5,954.5 926.5,952.5 928.5,948.5 930.5,943.5 932.5,937.5 933.5,935.5 935.5,929.5 937.5,924.5 939.5,918.5 941.5,910.5 943.5,902.5 945.5,894.5 947.5,887.5 949.5,880.5 951.5,874.5 952.5,870.5 953.5,866.5 955.5,857.5 957.5,848.5 958.5,842.5 960.5,835.5 962.5,827.5 963.5,813.5 965.5,805.5 966.5,792.5 968.5,784.5 969.5,780.5 972.5,773.5 973.5,762.5 975.5,742.5 977.5,731.5 979.5,723.5 980.5,714.5 981.5,704.5 985.5,677.5 988.5,662.5 989.5,642.5 991.5,629.5 993.5,617.5 994.5,598.5 996.5,588.5 999.5,575.5 998.5,561.5 1001.5,546.5 1003.5,529.5 1005.5,518.5 1007.5,510.5 1009.5,500.5 1010.5,484.5 1011.5,476.5 1014.5,458.5 1016.5,442.5 1017.5,435.5 1020.5,421.5 1021.5,404.5 1023.5,396.5 1024.5,393.5 1026.5,379.5 1028.5,369.5 1031.5,364.5 1031.5,353.5 1034.5,330.5 1036.5,314.5 1037.5,287.5 1039.5,275.5 1041.5,273.5 1043.5,282.5 1044.5,259.5 1048.5,256.5 1053.5,255.5 1055.5,273.5 1056.5,257.5 1059.5,262.5 1065.5,265.5 1070.5,275.5 1073.5,281.5 1076.5,279.5 1078.5,283.5 1080.5,283.5 1081.5,286.5 1083.5,292.5 1085.5,297.5 1088.5,302.5 1090.5,311.5 1092.5,308.5 1092.5,315.5 1096.5,310.5 1099.5,314.5 1102.5,319.5 1104.5,323.5 1107.5,326.5 1110.5,329.5 1112.5,332.5 1115.5,335.5 1118.5,334.5 1120.5,340.5 1122.5,338.5 1123.5,341.5 1124.5,342.5 1126.5,346.5 1128.5,348.5 1130.5,348.5 1131.5,352.5 1133.5,352.5 1135.5,356.5 1137.5,359.5 1138.5,359.5 1141.5,362.5 1143.5,366.5 1145.5,369.5 1148.5,370.5 1152.5,372.5 1157.5,373.5 1159.5,378.5 1163.5,385.5 1165.5,391.5 1167.5,388.5 1167.5,402.5 1170.5,406.5 1170.5,399.5 1176.5,409.5 1177.5,413.5 1178.5,422.5 1180.5,423.5 1181.5,426.5 1183.5,433.5 1184.5,435.5 1186.5,441.5 1188.5,447.5 1190.5,452.5 1192.5,458.5 1194.5,463.5 1196.5,470.5 1197.5,474.5 1199.5,482.5 1201.5,490.5 1203.5,498.5 1204.5,501.5 1206.5,509.5 1208.5,517.5 1210.5,524.5 1212.5,531.5 1213.5,535.5 1215.5,542.5 1216.5,546.5 1217.5,550.5 1218.5,554.5 1220.5,563.5 1222.5,572.5 1223.5,576.5 1224.5,579.5 1226.5,586.5 1228.5,592.5 1230.5,600.5 1231.5,604.5 1233.5,613.5 1235.5,621.5 1236.5,625.5 1238.5,632.5 1239.5,635.5 1240.5,638.5 1241.5,642.5 1243.5,648.5 1244.5,652.5 1245.5,656.5 1247.5,664.5 1249.5,672.5 1250.5,676.5 1252.5,682.5 1254.5,689.5 1256.5,696.5 1258.5,702.5 1259.5,706.5 1260.5,709.5 1262.5,716.5 1263.5,719.5 1265.5,726.5 1267.5,732.5 1268.5,736.5 1270.5,742.5 1272.5,749.5 1274.5,757.5 1275.5,761.5 1277.5,769.5 1279.5,777.5 1281.5,784.5 1283.5,792.5 1284.5,796.5 1286.5,802.5 1288.5,808.5 1290.5,814.5 1292.5,820.5 1294.5,826.5 1296.5,831.5 1298.5,836.5 1300.5,842.5 1301.5,844.5 1302.5,847.5 1303.5,850.5 1305.5,855.5 1307.5,861.5 1309.5,867.5 1311.5,872.5 1313.5,878.5 1314.5,881.5 1316.5,886.5 1318.5,891.5 1320.5,897.5 1322.5,902.5 1323.5,904.5 1324.5,907.5 1326.5,912.5 1327.5,914.5 1329.5,919.5 1331.5,924.5 1332.5,926.5 1334.5,931.5 1335.5,933.5 1337.5,938.5 1338.5,940.5 1340.5,945.5 1342.5,949.5 1344.5,953.5 1345.5,955.5 1347.5,959.5 1349.5,963.5 1351.5,967.5 1353.5,972.5 1355.5,975.5 1357.5,979.5 1359.5,983.5 1361.5,986.5 1363.5,990.5 1365.5,994.5 1367.5,997.5 1368.5,998.5 1369.5,999.5 1371.5,1002.5 1373.5,1005.5 1375.5,1008.5 1377.5,1010.5 1379.5,1013.5 1381.5,1014.5 1383.5,1017.5 1384.5,1018.5 1386.5,1020.5 1388.5,1023.5 1390.5,1025.5 1392.5,1027.5 1394.5,1030.5 1395.5,1030.5 1396.5,1032.5 1398.5,1032.5 1400.5,1035.5 1402.5,1036.5 1404.5,1038.5 1405.5,1039.5 1407.5,1040.5 1409.5,1041.5 1411.5,1043.5 1413.5,1044.5 1415.5,1046.5 1417.5,1047.5 1418.5,1047.5 1420.5,1050.5 1422.5,1051.5 1424.5,1051.5 1426.5,1053.5 1428.5,1054.5 1429.5,1056.5 1431.5,1056.5 1432.5,1056.5 1433.5,1056.5 1435.5,1058.5 1436.5,1058.5 1438.5,1059.5 1439.5,1059.5 1440.5,1060.5 1442.5,1060.5 1444.5,1061.5 1445.5,1062.5 1447.5,1064.5 1449.5,1065.5 1451.5,1065.5 1452.5,1065.5 1454.5,1065.5 1456.5,1066.5 1458.5,1066.5 1460.5,1069.5 1462.5,1068.5 1464.5,1068.5 1466.5,1069.5 1468.5,1070.5 1470.5,1070.5 1471.5,1070.5 1473.5,1072.5 1475.5,1072.5 1477.5,1074.5 1479.5,1075.5 1481.5,1075.5 1483.5,1074.5 1485.5,1075.5 1487.5,1076.5 1489.5,1076.5 1491.5,1077.5 1493.5,1078.5 1495.5,1079.5 1497.5,1081.5 1499.5,1081.5 1500.5,1081.5 1502.5,1081.5 1503.5,1079.5 1504.5,1080.5 1505.5,1081.5 1506.5,1080.5 1508.5,1082.5 1510.5,1082.5 1511.5,1080.5 1513.5,1082.5 1515.5,1083.5 1517.5,1082.5 1519.5,1082.5 1521.5,1083.5 1523.5,1081.5 1525.5,1082.5 1527.5,1084.5 1529.5,1085.5 1531.5,1085.5 1533.5,1086.5 1535.5,1085.5 1537.5,1084.5 1539.5,1086.5 1541.5,1087.5 1543.5,1086.5 1545.5,1087.5 1547.5,1087.5 1548.5,1086.5 1550.5,1087.5 1552.5,1088.5 1554.5,1086.5 1555.5,1086.5 1557.5,1087.5 1559.5,1087.5 1560.5,1087.5 1562.5,1086.5 1563.5,1087.5 1565.5,1088.5 1567.5,1088.5 1568.5,1088.5 1570.5,1089.5 1571.5,1090.5 1573.5,1089.5 1575.5,1088.5 1577.5,1090.5 1578.5,1090.5 1580.5,1089.5 1582.5,1089.5 1584.5,1089.5 1585.5,1089.5 1587.5,1089.5 1589.5,1090.5 1591.5,1091.5 1593.5,1091.5 1595.5,1090.5 1596.5,1089.5 1598.5,1089.5 1600.5,1089.5 1602.5,1090.5 1604.5,1090.5 1605.5,1089.5 1606.5,1090.5 1608.5,1091.5 1610.5,1089.5 1612.5,1090.5 1613.5,1092.5 1615.5,1089.5 1616.5,1090.5 1617.5,1089.5 1619.5,1090.5 1620.5,1091.5 1621.5,1092.5 1623.5,1091.5 1625.5,1091.5 1627.5,1091.5 1629.5,1092.5 1631.5,1090.5 1633.5,1091.5 1635.5,1090.5 1637.5,1090.5 1639.5,1092.5 1640.5,1091.5 1642.5,1092.5 1644.5,1091.5 1646.5,1090.5 1647.5,1090.5 1649.5,1093.5 1651.5,1092.5 1653.5,1093.5 1654.5,1092.5 1655.5,1092.5 1657.5,1091.5 1659.5,1092.5 1661.5,1092.5 1663.5,1091.5 1665.5,1092.5 1667.5,1092.5 1668.5,1092.5 1670.5,1092.5 1672.5,1092.5 1673.5,1092.5 1674.5,1092.5 1676.5,1090.5 1677.5,1090.5 1679.5,1092.5 1681.5,1091.5 1683.5,1091.5 1685.5,1091.5 1687.5,1091.5 1689.5,1092.5 1691.5,1091.5 1693.5,1092.5 1694.5,1092.5 1696.5,1091.5 1698.5,1091.5 1700.5,1090.5 1702.5,1091.5 1703.5,1092.5 1704.5,1092.5 1705.5,1092.5 1707.5,1091.5 1709.5,1092.5 1711.5,1091.5 1713.5,1091.5 1715.5,1090.5 1717.5,1092.5 1719.5,1091.5 1720.5,1091.5 1722.5,1092.5 1724.5,1091.5 1726.5,1090.5 1727.5,1091.5 1728.5,1091.5 1730.5,1092.5 1732.5,1090.5 1733.5,1090.5 1734.5,1091.5 1736.5,1091.5 1738.5,1091.5 1740.5,1089.5 1742.5,1090.5 1744.5,1090.5 1746.5,1089.5 1747.5,1090.5 1748.5,1089.5 1749.5,1090.5 1751.5,1091.5 1753.5,1090.5 1754.5,1091.5 1756.5,1091.5 1758.5,1091.5 1760.5,1090.5 1762.5,1089.5 1763.5,1089.5 1765.5,1088.5 1766.5,1089.5 1768.5,1090.5 1770.5,1090.5 1772.5,1090.5 1773.5,1091.5 1774.5,1090.5 1775.5,1089.5 1777.5,1089.5 1779.5,1089.5 1781.5,1090.5 1783.5,1091.5 1785.5,1090.5 1787.5,1090.5 1789.5,1090.5 1791.5,1091.5 1792.5,1090.5 1793.5,1090.5 1795.5,1090.5 1796.5,1089.5 1798.5,1090.5 1800.5,1091.5 1802.5,1090.5 1804.5,1089.5 1806.5,1088.5 1807.5,1088.5 1809.5,1090.5 1811.5,1090.5 1813.5,1090.5 1814.5,1090.5 1816.5,1089.5 1818.5,1089.5 1820.5,1089.5 1822.5,1090.5 1824.5,1089.5 1826.5,1089.5 1828.5,1087.5 1830.5,1088.5 1831.5,1088.5 1833.5,1089.5 1835.5,1088.5 1836.5,1088.5 1838.5,1089.5 1840.5,1090.5 1842.5,1090.5 1844.5,1091.5 1845.5,1091.5 1847.5,1089.5 1849.5,1088.5 1851.5,1088.5 1853.5,1089.5 1855.5,1088.5 1857.5,1089.5 1858.5,1091.5 1860.5,1091.5 1862.5,1091.5 1863.5,1091.5 1865.5,1090.5 1867.5,1091.5 1869.5,1090.5 1870.5,1091.5 1872.5,1090.5 1873.5,1090.5 1875.5,1091.5 1877.5,1093.5 1878.5,1091.5 1880.5,1092.5 1882.5,1093.5 1884.5,1093.5 1886.5,1093.5 1888.5,1094.5 1890.5,1094.5 1892.5,1095.5 1894.5,1095.5 1896.5,1094.5 1898.5,1096.5 1900.5,1096.5 1901.5,1098.5"/>
<polyline fill="none" stroke="none" marker-start="url(#qb)" marker-mid="url(#qb)" marker-end="url(#qb)" points="300.5,1136.5 302.5,1136.5 304.5,1136.5 306.5,1136.5 308.5,1136.5 310.5,1136.5 312.5,1136.5 313.5,1136.5 315.5,1136.5 317.5,1136.5 318.5,1136.5 320.5,1136.5 322.5,1136.5 323.5,1136.5 324.5,1136.5 326.5,1136.5 328.5,1136.5 330.5,1136.5 332.5,1136.5 334.5,1136.5 335.5,1136.5 337.5,1136.5 339.5,1136.5 341.5,1136.5 343.5,1136.5 344.5,1136.5 346.5,1136.5 347.5,1136.5 349.5,1136.5 351.5,1136.5 353.5,1136.5 354.5,1136.5 356.5,1136.5 357.5,1136.5 359.5,1136.5 361.5,1136.5 363.5,1136.5 365.5,1136.5 367.5,1136.5 369.5,1136.5 371.5,1136.5 372.5,1136.5 374.5,1136.5 376.5,1136.5 378.5,1136.5 380.5,1136.5 382.5,1136.5 384.5,1136.5 386.5,1136.5 388.5,1136.5 390.5,1136.5 392.5,1136.5 394.5,1136.5 395.5,1136.5 397.5,1136.5 399.5,1136.5 401.5,1136.5 403.5,1137.5 405.5,1137.5 407.5,1137.5 409.5,1137.5 411.5,1137.5 412.5,1137.5 414.5,1137.5 416.5,1137.5 418.5,1137.5 420.5,1137.5 422.5,1137.5 424.5,1137.5 426.5,1137.5 428.5,1137.5 430.5,1137.5 431.5,1137.5 432.5,1137.5 434.5,1137.5 436.5,1137.5 438.5,1137.5 440.5,1137.5 441.5,1137.5 442.5,1137.5 443.5,1137.5 445.5,1137.5 447.5,1138.5 449.5,1138.5 451.5,1138.5 453.5,1138.5 455.5,1138.5 457.5,1138.5 459.5,1138.5 461.5,1138.5 463.5,1138.5 465.5,1138.5 467.5,1138.5 469.5,1138.5 470.5,1138.5 471.5,1138.5 473.5,1138.5 474.5,1139.5 476.5,1139.5 478.5,1139.5 480.5,1139.5 482.5,1139.5 484.5,1139.5 486.5,1139.5 488.5,1139.5 490.5,1139.5 492.5,1139.5 493.5,1140.5 495.5,1140.5 496.5,1140.5 498.5,1140.5 500.5,1140.5 501.5,1140.5 503.5,1140.5 505.5,1140.5 507.5,1140.5 509.5,1140.5 511.5,1141.5 513.5,1141.5 515.5,1141.5 516.5,1141.5 517.5,1141.5 518.5,1141.5 519.5,1141.5 521.5,1141.5 522.5,1141.5 524.5,1141.5 525.5,1142.5 527.5,1142.5 529.5,1142.5 531.5,1142.5 532.5,1142.5 534.5,1142.5 535.5,1142.5 537.5,1143.5 538.5,1143.5 540.5,1143.5 542.5,1143.5 544.5,1143.5 546.5,1143.5 548.5,1143.5 550.5,1144.5 552.5,1144.5 554.5,1144.5 556.5,1144.5 557.5,1144.5 559.5,1144.5 561.5,1145.5 563.5,1145.5 565.5,1145.5 567.5,1145.5 569.5,1145.5 571.5,1145.5 573.5,1146.5 575.5,1146.5 577.5,1146.5 578.5,1146.5 580.5,1146.5 582.5,1147.5 584.5,1147.5 586.5,1147.5 587.5,1147.5 589.5,1147.5 591.5,1147.5 593.5,1148.5 595.5,1148.5 597.5,1148.5 599.5,1148.5 601.5,1148.5 602.5,1149.5 604.5,1149.5 606.5,1149.5 608.5,1149.5 610.5,1149.5 611.5,1149.5 613.5,1150.5 615.5,1150.5 617.5,1150.5 619.5,1150.5 621.5,1151.5 623.5,1151.5 625.5,1151.5 627.5,1151.5 629.5,1151.5 631.5,1152.5 633.5,1152.5 634.5,1152.5 636.5,1152.5 638.5,1152.5 640.5,1153.5 642.5,1153.5 644.5,1153.5 646.5,1153.5 648.5,1154.5 650.5,1154.5 651.5,1154.5 652.5,1154.5 654.5,1154.5 656.5,1155.5 658.5,1155.5 660.5,1155.5 662.5,1155.5 664.5,1155.5 666.5,1156.5 668.5,1156.5 669.5,1156.5 670.5,1156.5 672.5,1156.5 673.5,1156.5 675.5,1156.5 676.5,1156.5 678.5,1157.5 680.5,1157.5 682.5,1157.5 684.5,1157.5 686.5,1157.5 687.5,1157.5 689.5,1158.5 691.5,1158.5 693.5,1158.5 695.5,1158.5 697.5,1158.5 699.5,1158.5 701.5,1159.5 703.5,1159.5 705.5,1159.5 707.5,1159.5 709.5,1159.5 710.5,1159.5 711.5,1159.5 713.5,1160.5 715.5,1160.5 716.5,1160.5 718.5,1160.5 720.5,1160.5 722.5,1160.5 724.5,1160.5 726.5,1160.5 728.5,1160.5 729.5,1160.5 730.5,1161.5 732.5,1161.5 734.5,1161.5 736.5,1161.5 738.5,1161.5 740.5,1161.5 742.5,1161.5 744.5,1161.5 746.5,1161.5 748.5,1161.5 750.5,1161.5 752.5,1161.5 753.5,1161.5 755.5,1161.5 757.5,1161.5 759.5,1161.5 761.5,1161.5 763.5,1161.5 765.5,1161.5 767.5,1161.5 768.5,1161.5 770.5,1161.5 772.5,1161.5 773.5,1161.5 775.5,1160.5 777.5,1160.5 779.5,1160.5 781.5,1160.5 783.5,1160.5 784.5,1160.5 786.5,1160.5 788.5,1160.5 789.5,1160.5 791.5,1160.5 793.5,1159.5 795.5,1159.5 797.5,1159.5 799.5,1158.5 801.5,1158.5 802.5,1158.5 804.5,1157.5 806.5,1157.5 808.5,1157.5 810.5,1156.5 812.5,1156.5 814.5,1156.5 816.5,1155.5 818.5,1155.5 820.5,1155.5 822.5,1154.5 824.5,1154.5 825.5,1153.5 827.5,1153.5 828.5,1152.5 829.5,1152.5 831.5,1151.5 833.5,1151.5 835.5,1150.5 837.5,1149.5 838.5,1149.5 840.5,1149.5 842.5,1148.5 844.5,1147.5 846.5,1147.5 848.5,1146.5 850.5,1145.5 851.5,1144.5 853.5,1143.5 854.5,1143.5 856.5,1142.5 858.5,1141.5 860.5,1140.5 862.5,1139.5 863.5,1138.5 865.5,1137.5 867.5,1136.5 869.5,1136.5 871.5,1135.5 873.5,1133.5 874.5,1132.5 875.5,1132.5 876.5,1131.5 878.5,1129.5 880.5,1128.5 882.5,1126.5 884.5,1125.5 885.5,1124.5 887.5,1123.5 889.5,1121.5 891.5,1120.5 893.5,1118.5 895.5,1117.5 897.5,1115.5 899.5,1113.5 901.5,1112.5 902.5,1111.5 904.5,1109.5 905.5,1108.5 907.5,1107.5 908.5,1106.5 910.5,1104.5 911.5,1103.5 913.5,1102.5 914.5,1101.5 916.5,1099.5 918.5,1097.5 920.5,1096.5 922.5,1094.5 924.5,1092.5 925.5,1091.5 927.5,1089.5 928.5,1088.5 930.5,1087.5 932.5,1085.5 934.5,1083.5 936.5,1081.5 938.5,1079.5 940.5,1077.5 942.5,1076.5 944.5,1074.5 946.5,1072.5 948.5,1070.5 950.5,1068.5 952.5,1066.5 954.5,1064.5 955.5,1064.5 957.5,1062.5 959.5,1060.5 961.5,1058.5 962.5,1057.5 964.5,1055.5 966.5,1053.5 968.5,1051.5 970.5,1049.5 971.5,1048.5 973.5,1046.5 975.5,1044.5 977.5,1042.5 979.5,1040.5 981.5,1038.5 983.5,1035.5 984.5,1034.5 986.5,1032.5 988.5,1030.5 990.5,1028.5 991.5,1027.5 993.5,1024.5 994.5,1023.5 996.5,1021.5 998.5,1018.5 1000.5,1016.5 1002.5,1013.5 1004.5,1010.5 1006.5,1007.5 1008.5,1004.5 1010.5,1001.5 1012.5,997.5 1014.5,992.5 1016.5,988.5 1018.5,984.5 1019.5,982.5 1020.5,980.5 1022.5,975.5 1024.5,970.5 1026.5,964.5 1028.5,959.5 1030.5,953.5 1032.5,947.5 1034.5,941.5 1036.5,935.5 1037.5,932.5 1039.5,925.5 1041.5,920.5 1043.5,914.5 1045.5,909.5 1047.5,904.5 1048.5,901.5 1050.5,896.5 1052.5,888.5 1053.5,884.5 1055.5,876.5 1057.5,868.5 1059.5,859.5 1061.5,850.5 1063.5,841.5 1065.5,833.5 1067.5,825.5 1069.5,816.5 1070.5,812.5 1072.5,803.5 1073.5,798.5 1075.5,789.5 1077.5,779.5 1079.5,769.5 1080.5,764.5 1082.5,755.5 1084.5,744.5 1085.5,739.5 1087.5,729.5 1089.5,720.5 1091.5,711.5 1092.5,706.5 1094.5,696.5 1095.5,692.5 1097.5,682.5 1099.5,673.5 1100.5,668.5 1102.5,658.5 1103.5,652.5 1105.5,643.5 1106.5,639.5 1108.5,631.5 1110.5,622.5 1112.5,613.5 1114.5,605.5 1116.5,598.5 1118.5,590.5 1120.5,582.5 1121.5,579.5 1122.5,575.5 1123.5,572.5 1125.5,566.5 1127.5,560.5 1129.5,555.5 1131.5,549.5 1133.5,543.5 1135.5,539.5 1137.5,533.5 1138.5,530.5 1140.5,525.5 1142.5,521.5 1143.5,518.5 1145.5,514.5 1147.5,510.5 1149.5,506.5 1151.5,505.5 1153.5,503.5 1155.5,502.5 1157.5,501.5 1159.5,500.5 1160.5,498.5 1162.5,498.5 1163.5,499.5 1164.5,499.5 1166.5,499.5 1167.5,500.5 1169.5,501.5 1171.5,501.5 1173.5,502.5 1174.5,503.5 1176.5,504.5 1178.5,506.5 1179.5,506.5 1181.5,507.5 1182.5,508.5 1184.5,510.5 1185.5,511.5 1187.5,514.5 1188.5,515.5 1190.5,518.5 1192.5,521.5 1193.5,523.5 1194.5,525.5 1195.5,526.5 1196.5,527.5 1197.5,528.5 1199.5,532.5 1201.5,537.5 1203.5,541.5 1204.5,543.5 1206.5,547.5 1208.5,550.5 1210.5,554.5 1211.5,556.5 1212.5,557.5 1214.5,560.5 1216.5,563.5 1217.5,565.5 1218.5,567.5 1220.5,570.5 1222.5,573.5 1224.5,579.5 1226.5,584.5 1227.5,588.5 1229.5,592.5 1231.5,598.5 1233.5,602.5 1235.5,607.5 1237.5,612.5 1239.5,617.5 1241.5,621.5 1243.5,626.5 1244.5,629.5 1246.5,633.5 1248.5,638.5 1250.5,643.5 1252.5,647.5 1254.5,654.5 1256.5,659.5 1258.5,666.5 1260.5,671.5 1262.5,677.5 1264.5,681.5 1266.5,686.5 1268.5,691.5 1270.5,695.5 1272.5,701.5 1274.5,706.5 1276.5,712.5 1278.5,718.5 1279.5,720.5 1281.5,727.5 1283.5,733.5 1284.5,736.5 1286.5,741.5 1288.5,747.5 1290.5,752.5 1292.5,756.5 1293.5,758.5 1295.5,763.5 1296.5,766.5 1298.5,770.5 1299.5,773.5 1301.5,778.5 1303.5,783.5 1305.5,789.5 1307.5,795.5 1309.5,801.5 1310.5,803.5 1312.5,809.5 1314.5,814.5 1316.5,820.5 1318.5,825.5 1319.5,827.5 1321.5,832.5 1323.5,837.5 1324.5,839.5 1326.5,844.5 1328.5,850.5 1329.5,853.5 1330.5,856.5 1332.5,863.5 1334.5,869.5 1336.5,873.5 1338.5,877.5 1340.5,881.5 1342.5,885.5 1343.5,887.5 1345.5,891.5 1346.5,893.5 1348.5,896.5 1350.5,899.5 1352.5,903.5 1354.5,905.5 1355.5,907.5 1357.5,909.5 1358.5,910.5 1360.5,914.5 1362.5,916.5 1364.5,918.5 1366.5,921.5 1368.5,924.5 1370.5,927.5 1372.5,929.5 1373.5,931.5 1375.5,934.5 1377.5,937.5 1379.5,939.5 1381.5,942.5 1383.5,945.5 1385.5,949.5 1386.5,950.5 1388.5,952.5 1390.5,956.5 1392.5,959.5 1394.5,961.5 1396.5,963.5 1397.5,964.5 1398.5,965.5 1400.5,968.5 1401.5,969.5 1403.5,973.5 1405.5,975.5 1407.5,977.5 1409.5,978.5 1411.5,980.5 1412.5,981.5 1414.5,984.5 1416.5,985.5 1418.5,987.5 1419.5,989.5 1421.5,989.5 1423.5,989.5 1425.5,991.5 1427.5,993.5 1429.5,996.5 1430.5,995.5 1432.5,996.5 1434.5,999.5 1436.5,1001.5 1438.5,1002.5 1439.5,1003.5 1441.5,1005.5 1442.5,1004.5 1444.5,1005.5 1445.5,1006.5 1447.5,1004.5 1449.5,1007.5 1451.5,1008.5 1453.5,1007.5 1455.5,1008.5 1457.5,1009.5 1459.5,1012.5 1460.5,1012.5 1462.5,1011.5 1464.5,1012.5 1465.5,1013.5 1467.5,1013.5 1469.5,1015.5 1471.5,1016.5 1473.5,1018.5 1474.5,1017.5 1475.5,1017.5 1477.5,1018.5 1479.5,1019.5 1481.5,1020.5 1483.5,1017.5 1485.5,1018.5 1487.5,1021.5 1488.5,1018.5 1489.5,1022.5 1491.5,1023.5 1493.5,1022.5 1495.5,1022.5 1497.5,1022.5 1499.5,1020.5 1500.5,1023.5 1502.5,1023.5 1503.5,1024.5 1504.5,1021.5 1506.5,1023.5 1508.5,1021.5 1510.5,1023.5 1512.5,1025.5 1514.5,1026.5 1516.5,1025.5 1518.5,1024.5 1519.5,1027.5 1520.5,1027.5 1521.5,1027.5 1523.5,1026.5 1525.5,1028.5 1527.5,1027.5 1529.5,1030.5 1530.5,1027.5 1532.5,1027.5 1533.5,1027.5 1535.5,1028.5 1537.5,1027.5 1538.5,1025.5 1540.5,1030.5 1542.5,1029.5 1544.5,1029.5 1545.5,1026.5 1547.5,1028.5 1549.5,1029.5 1551.5,1028.5 1553.5,1027.5 1555.5,1027.5 1556.5,1029.5 1557.5,1029.5 1559.5,1025.5 1561.5,1025.5 1563.5,1025.5 1565.5,1026.5 1567.5,1027.5 1569.5,1028.5 1570.5,1027.5 1572.5,1026.5 1574.5,1029.5 1576.5,1027.5 1578.5,1028.5 1580.5,1027.5 1582.5,1028.5 1584.5,1026.5 1585.5,1028.5 1587.5,1028.5 1589.5,1027.5 1590.5,1028.5 1591.5,1029.5 1593.5,1032.5 1595.5,1029.5 1597.5,1030.5 1599.5,1029.5 1601.5,1031.5 1603.5,1028.5 1605.5,1026.5 1607.5,1030.5 1609.5,1027.5 1611.5,1028.5 1613.5,1027.5 1615.5,1029.5 1617.5,1030.5 1619.5,1029.5 1621.5,1030.5 1623.5,1030.5 1625.5,1032.5 1626.5,1033.5 1628.5,1032.5 1630.5,1031.5 1632.5,1031.5 1634.5,1027.5 1635.5,1027.5 1637.5,1026.5 1639.5,1026.5 1641.5,1027.5 1643.5,1028.5 1645.5,1030.5 1646.5,1028.5 1648.5,1029.5 1650.5,1029.5 1651.5,1034.5 1652.5,1027.5 1654.5,1030.5 1655.5,1031.5 1656.5,1033.5 1657.5,1031.5 1659.5,1027.5 1661.5,1027.5 1663.5,1028.5 1665.5,1030.5 1666.5,1028.5 1668.5,1030.5 1670.5,1034.5 1672.5,1036.5 1674.5,1034.5 1676.5,1034.5 1677.5,1033.5 1679.5,1035.5 1681.5,1029.5 1682.5,1028.5 1684.5,1027.5 1685.5,1029.5 1687.5,1035.5 1689.5,1027.5 1690.5,1034.5 1692.5,1032.5 1694.5,1035.5 1696.5,1036.5 1698.5,1039.5 1699.5,1033.5 1700.5,1038.5 1702.5,1032.5 1704.5,1037.5 1706.5,1034.5 1708.5,1038.5 1710.5,1031.5 1712.5,1033.5 1713.5,1027.5 1715.5,1032.5 1717.5,1036.5 1718.5,1035.5 1720.5,1032.5 1722.5,1030.5 1724.5,1035.5 1726.5,1038.5 1728.5,1035.5 1730.5,1035.5 1731.5,1029.5 1733.5,1036.5 1735.5,1038.5 1737.5,1042.5 1739.5,1041.5 1741.5,1039.5 1743.5,1034.5 1744.5,1034.5 1746.5,1031.5 1748.5,1031.5 1750.5,1034.5 1752.5,1037.5 1754.5,1039.5 1756.5,1034.5 1758.5,1043.5 1760.5,1041.5 1762.5,1041.5 1764.5,1038.5 1766.5,1038.5 1767.5,1039.5 1769.5,1040.5 1771.5,1036.5 1773.5,1041.5 1774.5,1039.5 1776.5,1037.5 1777.5,1037.5 1779.5,1041.5 1781.5,1037.5 1783.5,1038.5 1784.5,1041.5 1785.5,1039.5 1787.5,1036.5 1789.5,1036.5 1790.5,1038.5 1791.5,1039.5 1793.5,1038.5 1795.5,1040.5 1796.5,1039.5 1798.5,1036.5 1800.5,1041.5 1802.5,1039.5 1804.5,1041.5 1806.5,1039.5 1808.5,1040.5 1810.5,1040.5 1812.5,1039.5 1814.5,1040.5 1816.5,1041.5 1818.5,1039.5 1820.5,1042.5 1822.5,1041.5 1824.5,1042.5 1825.5,1040.5 1827.5,1039.5 1829.5,1040.5 1831.5,1041.5 1833.5,1043.5 1834.5,1042.5 1836.5,1042.5 1837.5,1041.5 1838.5,1044.5 1840.5,1043.5 1842.5,1042.5 1844.5,1042.5 1845.5,1045.5 1847.5,1041.5 1849.5,1040.5 1851.5,1042.5 1853.5,1041.5 1855.5,1041.5 1857.5,1044.5 1858.5,1046.5 1860.5,1044.5 1862.5,1041.5 1864.5,1044.5 1866.5,1044.5 1867.5,1045.5 1869.5,1046.5 1871.5,1045.5 1873.5,1044.5 1875.5,1047.5 1877.5,1046.5 1879.5,1047.5 1881.5,1045.5 1883.5,1044.5 1885.5,1047.5 1886.5,1046.5 1888.5,1047.5 1890.5,1045.5 1891.5,1048.5 1892.5,1049.5 1894.5,1050.5 1896.5,1048.5 1898.5,1050.5 1900.5,1051.5"/>
</g>
<g shape-rendering="crispEdges">
<rect x="1158" y="82" width="20" height="20" fill="#000"/>
</g>
<ellipse cx="1168" cy="181.4" rx="11.1" ry="10.6" fill="#ff0000"/>
<path d="M1168.5 255.9L1181 276V279.8H1155V276z" fill="#00ff00"/>
<path d="M1155 353H1181V356.7L1168.4 375.9L1155 356.7z" fill="#0000ff"/>
<text transform="translate(1259.00 114.20) scale(0.9620 1)" font-size="68.80">NC with 10 wt% ZnS</text>
<text transform="translate(1831.20 140.20) scale(0.9800 1)" font-size="40.30">0.15</text>
<text transform="translate(1259.00 203.40) scale(0.9620 1)" font-size="68.80">NC with 30 wt% ZnS</text>
<text transform="translate(1831.20 229.40) scale(0.9800 1)" font-size="40.30">0.15</text>
<text transform="translate(1259.00 292.30) scale(0.9620 1)" font-size="68.80">NC with 50 wt% ZnS</text>
<text transform="translate(1831.20 318.30) scale(0.9800 1)" font-size="40.30">0.15</text>
<text transform="translate(1259.00 382.40) scale(0.9620 1)" font-size="68.80">NC with 70 wt% ZnS</text>
<text transform="translate(1831.20 408.40) scale(0.9800 1)" font-size="40.30">0.15</text>
</svg>
</body></html>
